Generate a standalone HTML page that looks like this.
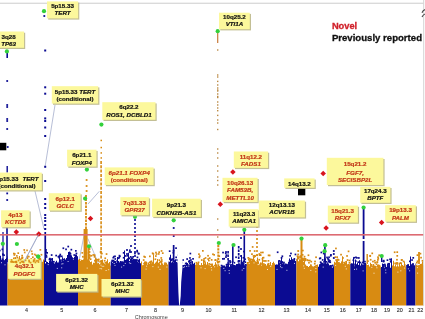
<!DOCTYPE html>
<html><head><meta charset="utf-8"><style>
html,body{margin:0;padding:0;background:#fff;}
svg{display:block;will-change:transform;font-family:"Liberation Sans",sans-serif;}
</style></head><body>
<svg width="425" height="319" viewBox="0 0 425 319">
<defs><filter id="sh" x="-20%" y="-20%" width="140%" height="140%"><feGaussianBlur stdDeviation="0.7"/></filter></defs>
<rect width="425" height="319" fill="#fff"/>
<line x1="55" y1="105" x2="45.2" y2="166" stroke="#98a2c4" stroke-width="0.7"/>
<line x1="35" y1="191" x2="44" y2="229" stroke="#98a2c4" stroke-width="0.7"/>
<line x1="24" y1="262" x2="38.8" y2="234" stroke="#98a2c4" stroke-width="0.7"/>
<line x1="99.3" y1="191.3" x2="88" y2="204" stroke="#98a2c4" stroke-width="0.7"/>
<line x1="76.4" y1="274" x2="84.5" y2="233" stroke="#98a2c4" stroke-width="0.7"/>
<line x1="87.8" y1="238.5" x2="105" y2="279" stroke="#98a2c4" stroke-width="0.7"/>
<path d="M-2.0 305.6L-2.0 260.2L-1.0 260.2L-1.0 259.7L0.0 259.7L0.0 255.8L1.0 255.8L1.0 260.1L2.0 260.1L2.0 259.9L3.0 259.9L3.0 259.6L4.0 259.6L4.0 260.8L5.0 260.8L5.0 259.1L6.0 259.1L6.0 257.9L7.0 257.9L7.0 256.2L7.5 256.2L7.5 305.6Z" fill="#0b0b92"/>
<path d="M7.5 305.6L7.5 263.7L8.0 263.7L8.0 264.3L9.0 264.3L9.0 261.3L10.0 261.3L10.0 263.4L11.0 263.4L11.0 260.4L12.0 260.4L12.0 263.4L13.0 263.4L13.0 257.5L14.0 257.5L14.0 260.4L15.0 260.4L15.0 264.5L16.0 264.5L16.0 264.0L17.0 264.0L17.0 259.2L18.0 259.2L18.0 263.1L19.0 263.1L19.0 255.9L20.0 255.9L20.0 263.4L21.0 263.4L21.0 264.3L22.0 264.3L22.0 262.3L23.0 262.3L23.0 261.2L24.0 261.2L24.0 263.8L25.0 263.8L25.0 264.3L26.0 264.3L26.0 263.6L27.0 263.6L27.0 257.2L28.0 257.2L28.0 261.4L29.0 261.4L29.0 264.2L30.0 264.2L30.0 263.9L31.0 263.9L31.0 264.3L32.0 264.3L32.0 264.4L33.0 264.4L33.0 261.0L34.0 261.0L34.0 264.1L35.0 264.1L35.0 262.7L36.0 262.7L36.0 263.2L37.0 263.2L37.0 264.0L38.0 264.0L38.0 261.6L39.0 261.6L39.0 264.2L40.0 264.2L40.0 262.2L41.0 262.2L41.0 264.2L42.0 264.2L42.0 261.8L43.0 261.8L43.0 259.5L44.0 259.5L44.0 305.6Z" fill="#d88b12"/>
<path d="M44.0 305.6L44.0 260.4L45.0 260.4L45.0 263.4L46.0 263.4L46.0 261.5L47.0 261.5L47.0 262.1L48.0 262.1L48.0 262.9L49.0 262.9L49.0 260.9L50.0 260.9L50.0 262.0L51.0 262.0L51.0 261.4L52.0 261.4L52.0 257.9L53.0 257.9L53.0 262.8L54.0 262.8L54.0 263.5L55.0 263.5L55.0 262.6L56.0 262.6L56.0 260.8L57.0 260.8L57.0 262.6L58.0 262.6L58.0 262.6L59.0 262.6L59.0 257.7L60.0 257.7L60.0 260.3L61.0 260.3L61.0 261.3L62.0 261.3L62.0 257.3L63.0 257.3L63.0 260.6L64.0 260.6L64.0 258.3L65.0 258.3L65.0 259.6L66.0 259.6L66.0 258.1L67.0 258.1L67.0 254.9L68.0 254.9L68.0 252.1L69.0 252.1L69.0 251.8L70.0 251.8L70.0 255.4L71.0 255.4L71.0 255.6L72.0 255.6L72.0 257.2L73.0 257.2L73.0 257.9L74.0 257.9L74.0 256.9L75.0 256.9L75.0 254.6L76.0 254.6L76.0 254.6L77.0 254.6L77.0 256.2L78.0 256.2L78.0 305.6Z" fill="#0b0b92"/>
<path d="M78.0 305.6L78.0 259.9L79.0 259.9L79.0 259.6L80.0 259.6L80.0 261.0L81.0 261.0L81.0 259.8L82.0 259.8L82.0 260.0L83.0 260.0L83.0 259.5L84.0 259.5L84.0 261.4L85.0 261.4L85.0 253.8L86.0 253.8L86.0 259.9L87.0 259.9L87.0 260.4L88.0 260.4L88.0 258.3L89.0 258.3L89.0 260.8L90.0 260.8L90.0 261.9L91.0 261.9L91.0 261.5L92.0 261.5L92.0 264.4L93.0 264.4L93.0 262.8L94.0 262.8L94.0 263.3L95.0 263.3L95.0 257.6L96.0 257.6L96.0 258.8L97.0 258.8L97.0 263.8L98.0 263.8L98.0 263.1L99.0 263.1L99.0 264.2L100.0 264.2L100.0 263.2L101.0 263.2L101.0 260.8L102.0 260.8L102.0 259.4L103.0 259.4L103.0 263.1L104.0 263.1L104.0 263.7L105.0 263.7L105.0 264.3L106.0 264.3L106.0 262.8L107.0 262.8L107.0 259.3L108.0 259.3L108.0 264.9L109.0 264.9L109.0 262.0L110.0 262.0L110.0 265.4L110.7 265.4L110.7 305.6Z" fill="#d88b12"/>
<path d="M110.7 305.6L110.7 261.6L111.0 261.6L111.0 261.2L112.0 261.2L112.0 262.7L113.0 262.7L113.0 261.8L114.0 261.8L114.0 260.7L115.0 260.7L115.0 260.9L116.0 260.9L116.0 262.5L117.0 262.5L117.0 256.9L118.0 256.9L118.0 260.9L119.0 260.9L119.0 262.5L120.0 262.5L120.0 261.0L121.0 261.0L121.0 261.3L122.0 261.3L122.0 261.2L123.0 261.2L123.0 261.5L124.0 261.5L124.0 250.4L125.0 250.4L125.0 259.9L126.0 259.9L126.0 259.2L127.0 259.2L127.0 258.5L128.0 258.5L128.0 252.7L129.0 252.7L129.0 261.0L130.0 261.0L130.0 258.7L131.0 258.7L131.0 257.5L132.0 257.5L132.0 259.6L133.0 259.6L133.0 258.8L134.0 258.8L134.0 259.5L135.0 259.5L135.0 259.5L136.0 259.5L136.0 260.0L137.0 260.0L137.0 261.8L138.0 261.8L138.0 262.4L139.0 262.4L139.0 258.8L140.0 258.8L140.0 263.2L141.0 263.2L141.0 305.6Z" fill="#0b0b92"/>
<path d="M141.0 305.6L141.0 261.5L142.0 261.5L142.0 265.2L143.0 265.2L143.0 265.0L144.0 265.0L144.0 261.6L145.0 261.6L145.0 263.0L146.0 263.0L146.0 261.9L147.0 261.9L147.0 264.5L148.0 264.5L148.0 263.7L149.0 263.7L149.0 264.2L150.0 264.2L150.0 261.2L151.0 261.2L151.0 263.7L152.0 263.7L152.0 262.3L153.0 262.3L153.0 254.6L154.0 254.6L154.0 263.7L155.0 263.7L155.0 262.8L156.0 262.8L156.0 261.6L157.0 261.6L157.0 259.1L158.0 259.1L158.0 263.5L159.0 263.5L159.0 263.8L160.0 263.8L160.0 264.7L161.0 264.7L161.0 260.4L162.0 260.4L162.0 264.9L163.0 264.9L163.0 264.9L164.0 264.9L164.0 263.4L165.0 263.4L165.0 263.8L166.0 263.8L166.0 262.8L167.0 262.8L167.0 264.6L168.0 264.6L168.0 262.2L168.6 262.2L168.6 305.6Z" fill="#d88b12"/>
<path d="M168.6 305.6L168.6 261.3L169.0 261.3L169.0 261.7L170.0 261.7L170.0 254.8L171.0 254.8L171.0 262.4L172.0 262.4L172.0 261.7L173.0 261.7L173.0 262.2L174.0 262.2L174.0 260.2L175.0 260.2L175.0 259.2L176.0 259.2L176.0 262.1L177.0 262.1L177.0 262.6L178.0 262.6L178.0 261.9L179.0 261.9L179.0 261.8L180.0 261.8L180.0 259.0L181.0 259.0L181.0 264.7L182.0 264.7L182.0 265.0L183.0 265.0L183.0 265.0L184.0 265.0L184.0 264.8L185.0 264.8L185.0 264.7L186.0 264.7L186.0 262.4L187.0 262.4L187.0 263.1L188.0 263.1L188.0 264.5L189.0 264.5L189.0 264.5L190.0 264.5L190.0 264.1L191.0 264.1L191.0 264.4L192.0 264.4L192.0 261.6L193.0 261.6L193.0 263.8L194.0 263.8L194.0 262.8L195.0 262.8L195.0 305.6Z" fill="#0b0b92"/>
<path d="M195.0 305.6L195.0 264.7L196.0 264.7L196.0 264.7L197.0 264.7L197.0 264.5L198.0 264.5L198.0 263.2L199.0 263.2L199.0 265.0L200.0 265.0L200.0 265.2L201.0 265.2L201.0 262.9L202.0 262.9L202.0 264.9L203.0 264.9L203.0 259.5L204.0 259.5L204.0 264.1L205.0 264.1L205.0 263.1L206.0 263.1L206.0 265.1L207.0 265.1L207.0 262.1L208.0 262.1L208.0 265.8L209.0 265.8L209.0 265.7L210.0 265.7L210.0 265.9L211.0 265.9L211.0 263.7L212.0 263.7L212.0 263.5L213.0 263.5L213.0 265.8L214.0 265.8L214.0 265.1L215.0 265.1L215.0 262.3L216.0 262.3L216.0 264.4L217.0 264.4L217.0 266.2L218.0 266.2L218.0 265.9L219.0 265.9L219.0 266.1L220.0 266.1L220.0 266.2L220.5 266.2L220.5 305.6Z" fill="#d88b12"/>
<path d="M220.5 305.6L220.5 267.1L221.0 267.1L221.0 266.4L222.0 266.4L222.0 265.5L223.0 265.5L223.0 266.9L224.0 266.9L224.0 265.6L225.0 265.6L225.0 266.5L226.0 266.5L226.0 265.2L227.0 265.2L227.0 266.1L228.0 266.1L228.0 264.7L229.0 264.7L229.0 266.8L230.0 266.8L230.0 264.4L231.0 264.4L231.0 266.4L232.0 266.4L232.0 259.6L233.0 259.6L233.0 264.6L234.0 264.6L234.0 265.1L235.0 265.1L235.0 265.3L236.0 265.3L236.0 264.3L237.0 264.3L237.0 263.9L238.0 263.9L238.0 263.4L239.0 263.4L239.0 263.4L240.0 263.4L240.0 265.0L241.0 265.0L241.0 255.0L242.0 255.0L242.0 262.5L243.0 262.5L243.0 262.3L244.0 262.3L244.0 265.3L245.0 265.3L245.0 265.2L246.0 265.2L246.0 264.7L246.7 264.7L246.7 305.6Z" fill="#0b0b92"/>
<path d="M246.7 305.6L246.7 262.0L247.0 262.0L247.0 262.0L248.0 262.0L248.0 261.7L249.0 261.7L249.0 259.8L250.0 259.8L250.0 258.6L251.0 258.6L251.0 260.9L252.0 260.9L252.0 259.4L253.0 259.4L253.0 256.9L254.0 256.9L254.0 259.6L255.0 259.6L255.0 261.2L256.0 261.2L256.0 261.7L257.0 261.7L257.0 257.4L258.0 257.4L258.0 261.3L259.0 261.3L259.0 263.7L260.0 263.7L260.0 262.8L261.0 262.8L261.0 265.5L262.0 265.5L262.0 257.0L263.0 257.0L263.0 264.6L264.0 264.6L264.0 264.2L265.0 264.2L265.0 264.1L266.0 264.1L266.0 265.6L267.0 265.6L267.0 263.7L268.0 263.7L268.0 264.9L269.0 264.9L269.0 264.9L270.0 264.9L270.0 262.0L271.0 262.0L271.0 265.2L272.0 265.2L272.0 264.4L273.0 264.4L273.0 261.8L274.0 261.8L274.0 264.0L275.0 264.0L275.0 305.6Z" fill="#d88b12"/>
<path d="M275.0 305.6L275.0 264.7L276.0 264.7L276.0 265.8L277.0 265.8L277.0 264.9L278.0 264.9L278.0 260.3L279.0 260.3L279.0 265.2L280.0 265.2L280.0 265.2L281.0 265.2L281.0 257.3L282.0 257.3L282.0 263.8L283.0 263.8L283.0 265.8L284.0 265.8L284.0 264.6L285.0 264.6L285.0 263.4L286.0 263.4L286.0 265.5L287.0 265.5L287.0 264.6L288.0 264.6L288.0 262.0L289.0 262.0L289.0 258.5L290.0 258.5L290.0 260.0L291.0 260.0L291.0 257.2L292.0 257.2L292.0 260.6L293.0 260.6L293.0 260.9L294.0 260.9L294.0 257.9L295.0 257.9L295.0 260.9L296.0 260.9L296.0 258.7L296.4 258.7L296.4 305.6Z" fill="#0b0b92"/>
<path d="M296.4 305.6L296.4 259.1L297.0 259.1L297.0 256.1L298.0 256.1L298.0 261.2L299.0 261.2L299.0 259.3L300.0 259.3L300.0 259.6L301.0 259.6L301.0 255.3L302.0 255.3L302.0 257.7L303.0 257.7L303.0 261.7L304.0 261.7L304.0 260.2L305.0 260.2L305.0 264.5L306.0 264.5L306.0 265.8L307.0 265.8L307.0 265.9L308.0 265.9L308.0 266.9L309.0 266.9L309.0 265.9L310.0 265.9L310.0 266.1L311.0 266.1L311.0 265.5L312.0 265.5L312.0 266.3L313.0 266.3L313.0 266.6L314.0 266.6L314.0 265.9L315.0 265.9L315.0 265.6L316.0 265.6L316.0 266.6L317.0 266.6L317.0 264.6L318.0 264.6L318.0 305.6Z" fill="#d88b12"/>
<path d="M318.0 305.6L318.0 266.7L319.0 266.7L319.0 264.2L320.0 264.2L320.0 264.1L321.0 264.1L321.0 263.0L322.0 263.0L322.0 262.7L323.0 262.7L323.0 261.3L324.0 261.3L324.0 257.3L325.0 257.3L325.0 258.5L326.0 258.5L326.0 260.9L327.0 260.9L327.0 262.2L328.0 262.2L328.0 263.4L329.0 263.4L329.0 265.3L330.0 265.3L330.0 264.9L331.0 264.9L331.0 266.2L332.0 266.2L332.0 266.4L333.0 266.4L333.0 266.3L334.0 266.3L334.0 305.6Z" fill="#0b0b92"/>
<path d="M334.0 305.6L334.0 261.7L335.0 261.7L335.0 262.4L336.0 262.4L336.0 260.2L337.0 260.2L337.0 260.2L338.0 260.2L338.0 264.0L339.0 264.0L339.0 264.2L340.0 264.2L340.0 263.3L341.0 263.3L341.0 262.0L342.0 262.0L342.0 256.3L343.0 256.3L343.0 263.7L344.0 263.7L344.0 262.0L345.0 262.0L345.0 262.8L346.0 262.8L346.0 261.0L347.0 261.0L347.0 264.2L348.0 264.2L348.0 264.1L349.0 264.1L349.0 264.3L350.0 264.3L350.0 258.5L350.3 258.5L350.3 305.6Z" fill="#d88b12"/>
<path d="M350.3 305.6L350.3 263.8L351.0 263.8L351.0 263.3L352.0 263.3L352.0 263.7L353.0 263.7L353.0 257.3L354.0 257.3L354.0 266.2L355.0 266.2L355.0 259.5L356.0 259.5L356.0 264.8L357.0 264.8L357.0 262.9L358.0 262.9L358.0 264.9L359.0 264.9L359.0 260.2L360.0 260.2L360.0 265.4L361.0 265.4L361.0 263.6L362.0 263.6L362.0 264.9L363.0 264.9L363.0 264.4L364.0 264.4L364.0 264.5L365.0 264.5L365.0 263.1L366.0 263.1L366.0 305.6Z" fill="#0b0b92"/>
<path d="M366.0 305.6L366.0 264.3L367.0 264.3L367.0 265.0L368.0 265.0L368.0 264.7L369.0 264.7L369.0 266.4L370.0 266.4L370.0 262.7L371.0 262.7L371.0 264.1L372.0 264.1L372.0 265.4L373.0 265.4L373.0 264.3L374.0 264.3L374.0 265.6L375.0 265.6L375.0 265.8L376.0 265.8L376.0 266.3L377.0 266.3L377.0 264.9L378.0 264.9L378.0 265.1L379.0 265.1L379.0 265.4L380.0 265.4L380.0 266.9L380.8 266.9L380.8 305.6Z" fill="#d88b12"/>
<path d="M380.8 305.6L380.8 267.9L381.0 267.9L381.0 267.1L382.0 267.1L382.0 263.6L383.0 263.6L383.0 264.1L384.0 264.1L384.0 267.7L385.0 267.7L385.0 267.6L386.0 267.6L386.0 266.9L387.0 266.9L387.0 263.8L388.0 263.8L388.0 265.9L389.0 265.9L389.0 262.9L390.0 262.9L390.0 267.8L391.0 267.8L391.0 258.3L392.0 258.3L392.0 305.6Z" fill="#0b0b92"/>
<path d="M392.0 305.6L392.0 265.5L393.0 265.5L393.0 260.8L394.0 260.8L394.0 266.2L395.0 266.2L395.0 264.4L396.0 264.4L396.0 266.6L397.0 266.6L397.0 265.3L398.0 265.3L398.0 266.5L399.0 266.5L399.0 262.7L400.0 262.7L400.0 266.6L401.0 266.6L401.0 263.1L402.0 263.1L402.0 264.9L403.0 264.9L403.0 266.1L404.0 266.1L404.0 261.5L405.0 261.5L405.0 266.4L406.0 266.4L406.0 264.5L406.2 264.5L406.2 305.6Z" fill="#d88b12"/>
<path d="M406.2 305.6L406.2 265.1L407.0 265.1L407.0 265.4L408.0 265.4L408.0 264.2L409.0 264.2L409.0 266.0L410.0 266.0L410.0 256.4L411.0 256.4L411.0 266.0L412.0 266.0L412.0 265.5L413.0 265.5L413.0 266.2L414.0 266.2L414.0 265.4L415.0 265.4L415.0 263.5L415.5 263.5L415.5 305.6Z" fill="#0b0b92"/>
<path d="M415.5 305.6L415.5 265.8L416.0 265.8L416.0 265.2L417.0 265.2L417.0 266.1L418.0 266.1L418.0 265.6L419.0 265.6L419.0 264.7L420.0 264.7L420.0 264.1L421.0 264.1L421.0 264.4L422.0 264.4L422.0 261.4L423.0 261.4L423.0 265.3L423.5 265.3L423.5 305.6Z" fill="#d88b12"/>
<rect x="-1.1" y="258.1" width="1.7" height="1.7" fill="#0b0b92"/>
<rect x="-1.1" y="249.7" width="1.7" height="1.7" fill="#0b0b92"/>
<rect x="3.5" y="260.2" width="1.7" height="1.7" fill="#0b0b92"/>
<rect x="3.2" y="254.3" width="1.7" height="1.7" fill="#0b0b92"/>
<rect x="-0.6" y="260.4" width="1.7" height="1.7" fill="#0b0b92"/>
<rect x="2.2" y="260.1" width="1.7" height="1.7" fill="#0b0b92"/>
<rect x="-0.4" y="258.7" width="1.7" height="1.7" fill="#0b0b92"/>
<rect x="-1.6" y="256.4" width="1.7" height="1.7" fill="#0b0b92"/>
<rect x="1.5" y="248.5" width="1.7" height="1.7" fill="#0b0b92"/>
<rect x="2.1" y="253.9" width="1.7" height="1.7" fill="#0b0b92"/>
<rect x="2.0" y="253.4" width="1.7" height="1.7" fill="#0b0b92"/>
<rect x="1.7" y="258.4" width="1.7" height="1.7" fill="#0b0b92"/>
<rect x="35.5" y="261.9" width="1.7" height="1.7" fill="#d88b12"/>
<rect x="38.3" y="262.4" width="1.7" height="1.7" fill="#d88b12"/>
<rect x="21.3" y="254.8" width="1.7" height="1.7" fill="#d88b12"/>
<rect x="29.9" y="263.0" width="1.7" height="1.7" fill="#d88b12"/>
<rect x="41.9" y="262.4" width="1.7" height="1.7" fill="#d88b12"/>
<rect x="16.6" y="256.8" width="1.7" height="1.7" fill="#d88b12"/>
<rect x="19.1" y="261.9" width="1.7" height="1.7" fill="#d88b12"/>
<rect x="10.2" y="263.1" width="1.7" height="1.7" fill="#d88b12"/>
<rect x="27.9" y="262.2" width="1.7" height="1.7" fill="#d88b12"/>
<rect x="28.5" y="261.4" width="1.7" height="1.7" fill="#d88b12"/>
<rect x="23.4" y="249.1" width="1.7" height="1.7" fill="#d88b12"/>
<rect x="24.4" y="259.7" width="1.7" height="1.7" fill="#d88b12"/>
<rect x="37.7" y="262.6" width="1.7" height="1.7" fill="#d88b12"/>
<rect x="13.0" y="252.7" width="1.7" height="1.7" fill="#d88b12"/>
<rect x="36.0" y="262.2" width="1.7" height="1.7" fill="#d88b12"/>
<rect x="14.3" y="257.4" width="1.7" height="1.7" fill="#d88b12"/>
<rect x="40.2" y="262.5" width="1.7" height="1.7" fill="#d88b12"/>
<rect x="40.6" y="253.9" width="1.7" height="1.7" fill="#d88b12"/>
<rect x="28.6" y="261.0" width="1.7" height="1.7" fill="#d88b12"/>
<rect x="11.3" y="263.3" width="1.7" height="1.7" fill="#d88b12"/>
<rect x="41.0" y="262.3" width="1.7" height="1.7" fill="#d88b12"/>
<rect x="32.1" y="262.2" width="1.7" height="1.7" fill="#d88b12"/>
<rect x="36.2" y="259.4" width="1.7" height="1.7" fill="#d88b12"/>
<rect x="17.9" y="262.6" width="1.7" height="1.7" fill="#d88b12"/>
<rect x="32.6" y="263.2" width="1.7" height="1.7" fill="#d88b12"/>
<rect x="15.6" y="259.8" width="1.7" height="1.7" fill="#d88b12"/>
<rect x="37.2" y="259.2" width="1.7" height="1.7" fill="#d88b12"/>
<rect x="17.4" y="252.3" width="1.7" height="1.7" fill="#d88b12"/>
<rect x="14.8" y="263.4" width="1.7" height="1.7" fill="#d88b12"/>
<rect x="17.0" y="260.8" width="1.7" height="1.7" fill="#d88b12"/>
<rect x="9.8" y="262.6" width="1.7" height="1.7" fill="#d88b12"/>
<rect x="20.5" y="259.7" width="1.7" height="1.7" fill="#d88b12"/>
<rect x="12.3" y="261.5" width="1.7" height="1.7" fill="#d88b12"/>
<rect x="30.4" y="258.2" width="1.7" height="1.7" fill="#d88b12"/>
<rect x="27.9" y="262.8" width="1.7" height="1.7" fill="#d88b12"/>
<rect x="8.9" y="263.4" width="1.7" height="1.7" fill="#d88b12"/>
<rect x="39.2" y="258.1" width="1.7" height="1.7" fill="#d88b12"/>
<rect x="41.0" y="263.4" width="1.7" height="1.7" fill="#d88b12"/>
<rect x="29.7" y="260.5" width="1.7" height="1.7" fill="#d88b12"/>
<rect x="33.0" y="261.8" width="1.7" height="1.7" fill="#d88b12"/>
<rect x="42.3" y="262.3" width="1.7" height="1.7" fill="#d88b12"/>
<rect x="26.6" y="257.5" width="1.7" height="1.7" fill="#d88b12"/>
<rect x="38.8" y="257.5" width="1.7" height="1.7" fill="#d88b12"/>
<rect x="32.0" y="256.4" width="1.7" height="1.7" fill="#d88b12"/>
<rect x="39.4" y="261.5" width="1.7" height="1.7" fill="#d88b12"/>
<rect x="31.4" y="253.1" width="1.7" height="1.7" fill="#d88b12"/>
<rect x="37.8" y="261.1" width="1.7" height="1.7" fill="#d88b12"/>
<rect x="35.1" y="254.5" width="1.7" height="1.7" fill="#d88b12"/>
<rect x="27.5" y="259.1" width="1.7" height="1.7" fill="#d88b12"/>
<rect x="20.9" y="259.6" width="1.7" height="1.7" fill="#d88b12"/>
<rect x="28.8" y="263.1" width="1.7" height="1.7" fill="#d88b12"/>
<rect x="38.1" y="257.6" width="1.7" height="1.7" fill="#d88b12"/>
<rect x="21.1" y="257.5" width="1.7" height="1.7" fill="#d88b12"/>
<rect x="27.8" y="260.9" width="1.7" height="1.7" fill="#d88b12"/>
<rect x="36.7" y="263.1" width="1.7" height="1.7" fill="#d88b12"/>
<rect x="74.7" y="255.3" width="1.7" height="1.7" fill="#0b0b92"/>
<rect x="49.6" y="258.6" width="1.7" height="1.7" fill="#0b0b92"/>
<rect x="53.0" y="260.9" width="1.7" height="1.7" fill="#0b0b92"/>
<rect x="57.5" y="255.8" width="1.7" height="1.7" fill="#0b0b92"/>
<rect x="60.1" y="259.3" width="1.7" height="1.7" fill="#0b0b92"/>
<rect x="58.7" y="261.5" width="1.7" height="1.7" fill="#0b0b92"/>
<rect x="45.2" y="249.1" width="1.7" height="1.7" fill="#0b0b92"/>
<rect x="45.5" y="254.5" width="1.7" height="1.7" fill="#0b0b92"/>
<rect x="62.5" y="258.7" width="1.7" height="1.7" fill="#0b0b92"/>
<rect x="69.6" y="255.3" width="1.7" height="1.7" fill="#0b0b92"/>
<rect x="48.6" y="258.6" width="1.7" height="1.7" fill="#0b0b92"/>
<rect x="45.0" y="251.0" width="1.7" height="1.7" fill="#0b0b92"/>
<rect x="51.8" y="261.5" width="1.7" height="1.7" fill="#0b0b92"/>
<rect x="45.7" y="256.1" width="1.7" height="1.7" fill="#0b0b92"/>
<rect x="58.5" y="255.5" width="1.7" height="1.7" fill="#0b0b92"/>
<rect x="65.2" y="248.5" width="1.7" height="1.7" fill="#0b0b92"/>
<rect x="75.0" y="250.0" width="1.7" height="1.7" fill="#0b0b92"/>
<rect x="50.6" y="258.3" width="1.7" height="1.7" fill="#0b0b92"/>
<rect x="49.9" y="262.4" width="1.7" height="1.7" fill="#0b0b92"/>
<rect x="59.4" y="253.7" width="1.7" height="1.7" fill="#0b0b92"/>
<rect x="49.9" y="260.4" width="1.7" height="1.7" fill="#0b0b92"/>
<rect x="55.3" y="254.7" width="1.7" height="1.7" fill="#0b0b92"/>
<rect x="60.9" y="255.5" width="1.7" height="1.7" fill="#0b0b92"/>
<rect x="68.5" y="253.3" width="1.7" height="1.7" fill="#0b0b92"/>
<rect x="67.4" y="256.7" width="1.7" height="1.7" fill="#0b0b92"/>
<rect x="58.8" y="255.6" width="1.7" height="1.7" fill="#0b0b92"/>
<rect x="73.4" y="254.2" width="1.7" height="1.7" fill="#0b0b92"/>
<rect x="62.5" y="247.4" width="1.7" height="1.7" fill="#0b0b92"/>
<rect x="59.1" y="255.1" width="1.7" height="1.7" fill="#0b0b92"/>
<rect x="50.8" y="254.2" width="1.7" height="1.7" fill="#0b0b92"/>
<rect x="70.5" y="248.8" width="1.7" height="1.7" fill="#0b0b92"/>
<rect x="67.2" y="256.2" width="1.7" height="1.7" fill="#0b0b92"/>
<rect x="75.6" y="252.6" width="1.7" height="1.7" fill="#0b0b92"/>
<rect x="69.6" y="252.9" width="1.7" height="1.7" fill="#0b0b92"/>
<rect x="55.4" y="261.9" width="1.7" height="1.7" fill="#0b0b92"/>
<rect x="58.4" y="256.8" width="1.7" height="1.7" fill="#0b0b92"/>
<rect x="68.9" y="251.8" width="1.7" height="1.7" fill="#0b0b92"/>
<rect x="45.1" y="251.7" width="1.7" height="1.7" fill="#0b0b92"/>
<rect x="46.3" y="252.0" width="1.7" height="1.7" fill="#0b0b92"/>
<rect x="49.7" y="259.8" width="1.7" height="1.7" fill="#0b0b92"/>
<rect x="69.5" y="254.5" width="1.7" height="1.7" fill="#0b0b92"/>
<rect x="49.0" y="257.8" width="1.7" height="1.7" fill="#0b0b92"/>
<rect x="67.4" y="245.7" width="1.7" height="1.7" fill="#0b0b92"/>
<rect x="84.2" y="258.8" width="1.7" height="1.7" fill="#d88b12"/>
<rect x="99.4" y="261.0" width="1.7" height="1.7" fill="#d88b12"/>
<rect x="89.1" y="255.1" width="1.7" height="1.7" fill="#d88b12"/>
<rect x="81.4" y="252.0" width="1.7" height="1.7" fill="#d88b12"/>
<rect x="82.0" y="255.9" width="1.7" height="1.7" fill="#d88b12"/>
<rect x="85.9" y="259.1" width="1.7" height="1.7" fill="#d88b12"/>
<rect x="94.5" y="259.8" width="1.7" height="1.7" fill="#d88b12"/>
<rect x="89.8" y="258.4" width="1.7" height="1.7" fill="#d88b12"/>
<rect x="94.5" y="262.4" width="1.7" height="1.7" fill="#d88b12"/>
<rect x="84.5" y="254.0" width="1.7" height="1.7" fill="#d88b12"/>
<rect x="97.9" y="258.6" width="1.7" height="1.7" fill="#d88b12"/>
<rect x="104.4" y="257.4" width="1.7" height="1.7" fill="#d88b12"/>
<rect x="104.6" y="261.9" width="1.7" height="1.7" fill="#d88b12"/>
<rect x="101.0" y="252.7" width="1.7" height="1.7" fill="#d88b12"/>
<rect x="106.0" y="261.3" width="1.7" height="1.7" fill="#d88b12"/>
<rect x="105.5" y="262.8" width="1.7" height="1.7" fill="#d88b12"/>
<rect x="85.6" y="252.1" width="1.7" height="1.7" fill="#d88b12"/>
<rect x="86.2" y="259.8" width="1.7" height="1.7" fill="#d88b12"/>
<rect x="103.8" y="259.9" width="1.7" height="1.7" fill="#d88b12"/>
<rect x="102.5" y="262.6" width="1.7" height="1.7" fill="#d88b12"/>
<rect x="90.6" y="254.9" width="1.7" height="1.7" fill="#d88b12"/>
<rect x="78.7" y="259.0" width="1.7" height="1.7" fill="#d88b12"/>
<rect x="108.0" y="263.3" width="1.7" height="1.7" fill="#d88b12"/>
<rect x="93.8" y="254.3" width="1.7" height="1.7" fill="#d88b12"/>
<rect x="93.7" y="256.0" width="1.7" height="1.7" fill="#d88b12"/>
<rect x="84.0" y="260.0" width="1.7" height="1.7" fill="#d88b12"/>
<rect x="81.5" y="260.3" width="1.7" height="1.7" fill="#d88b12"/>
<rect x="95.2" y="258.8" width="1.7" height="1.7" fill="#d88b12"/>
<rect x="95.7" y="262.5" width="1.7" height="1.7" fill="#d88b12"/>
<rect x="83.9" y="259.0" width="1.7" height="1.7" fill="#d88b12"/>
<rect x="106.7" y="263.3" width="1.7" height="1.7" fill="#d88b12"/>
<rect x="92.4" y="254.1" width="1.7" height="1.7" fill="#d88b12"/>
<rect x="88.3" y="256.6" width="1.7" height="1.7" fill="#d88b12"/>
<rect x="94.1" y="259.8" width="1.7" height="1.7" fill="#d88b12"/>
<rect x="96.7" y="263.4" width="1.7" height="1.7" fill="#d88b12"/>
<rect x="99.8" y="251.4" width="1.7" height="1.7" fill="#d88b12"/>
<rect x="83.8" y="256.6" width="1.7" height="1.7" fill="#d88b12"/>
<rect x="101.0" y="260.1" width="1.7" height="1.7" fill="#d88b12"/>
<rect x="84.2" y="259.3" width="1.7" height="1.7" fill="#d88b12"/>
<rect x="94.0" y="263.4" width="1.7" height="1.7" fill="#d88b12"/>
<rect x="105.7" y="253.2" width="1.7" height="1.7" fill="#d88b12"/>
<rect x="99.9" y="250.7" width="1.7" height="1.7" fill="#d88b12"/>
<rect x="97.6" y="260.1" width="1.7" height="1.7" fill="#d88b12"/>
<rect x="96.7" y="258.9" width="1.7" height="1.7" fill="#d88b12"/>
<rect x="129.0" y="249.4" width="1.7" height="1.7" fill="#0b0b92"/>
<rect x="113.1" y="255.8" width="1.7" height="1.7" fill="#0b0b92"/>
<rect x="132.5" y="258.9" width="1.7" height="1.7" fill="#0b0b92"/>
<rect x="137.3" y="259.7" width="1.7" height="1.7" fill="#0b0b92"/>
<rect x="124.3" y="260.2" width="1.7" height="1.7" fill="#0b0b92"/>
<rect x="125.0" y="255.1" width="1.7" height="1.7" fill="#0b0b92"/>
<rect x="122.8" y="256.9" width="1.7" height="1.7" fill="#0b0b92"/>
<rect x="127.9" y="257.6" width="1.7" height="1.7" fill="#0b0b92"/>
<rect x="119.0" y="255.5" width="1.7" height="1.7" fill="#0b0b92"/>
<rect x="126.8" y="258.6" width="1.7" height="1.7" fill="#0b0b92"/>
<rect x="131.3" y="257.3" width="1.7" height="1.7" fill="#0b0b92"/>
<rect x="111.3" y="259.7" width="1.7" height="1.7" fill="#0b0b92"/>
<rect x="112.1" y="260.5" width="1.7" height="1.7" fill="#0b0b92"/>
<rect x="132.3" y="256.0" width="1.7" height="1.7" fill="#0b0b92"/>
<rect x="136.4" y="250.9" width="1.7" height="1.7" fill="#0b0b92"/>
<rect x="137.7" y="260.7" width="1.7" height="1.7" fill="#0b0b92"/>
<rect x="136.6" y="256.5" width="1.7" height="1.7" fill="#0b0b92"/>
<rect x="117.8" y="257.4" width="1.7" height="1.7" fill="#0b0b92"/>
<rect x="137.5" y="252.7" width="1.7" height="1.7" fill="#0b0b92"/>
<rect x="134.1" y="252.7" width="1.7" height="1.7" fill="#0b0b92"/>
<rect x="114.2" y="255.5" width="1.7" height="1.7" fill="#0b0b92"/>
<rect x="123.8" y="260.1" width="1.7" height="1.7" fill="#0b0b92"/>
<rect x="112.4" y="256.8" width="1.7" height="1.7" fill="#0b0b92"/>
<rect x="114.4" y="258.1" width="1.7" height="1.7" fill="#0b0b92"/>
<rect x="129.9" y="256.0" width="1.7" height="1.7" fill="#0b0b92"/>
<rect x="118.3" y="256.6" width="1.7" height="1.7" fill="#0b0b92"/>
<rect x="122.8" y="252.0" width="1.7" height="1.7" fill="#0b0b92"/>
<rect x="138.0" y="252.8" width="1.7" height="1.7" fill="#0b0b92"/>
<rect x="117.7" y="261.5" width="1.7" height="1.7" fill="#0b0b92"/>
<rect x="136.3" y="249.8" width="1.7" height="1.7" fill="#0b0b92"/>
<rect x="128.6" y="257.4" width="1.7" height="1.7" fill="#0b0b92"/>
<rect x="118.6" y="254.8" width="1.7" height="1.7" fill="#0b0b92"/>
<rect x="126.9" y="254.9" width="1.7" height="1.7" fill="#0b0b92"/>
<rect x="128.9" y="251.1" width="1.7" height="1.7" fill="#0b0b92"/>
<rect x="116.3" y="260.2" width="1.7" height="1.7" fill="#0b0b92"/>
<rect x="135.9" y="259.1" width="1.7" height="1.7" fill="#0b0b92"/>
<rect x="112.6" y="259.7" width="1.7" height="1.7" fill="#0b0b92"/>
<rect x="143.2" y="262.8" width="1.7" height="1.7" fill="#d88b12"/>
<rect x="158.2" y="263.2" width="1.7" height="1.7" fill="#d88b12"/>
<rect x="149.0" y="255.5" width="1.7" height="1.7" fill="#d88b12"/>
<rect x="159.0" y="261.6" width="1.7" height="1.7" fill="#d88b12"/>
<rect x="144.9" y="261.3" width="1.7" height="1.7" fill="#d88b12"/>
<rect x="159.9" y="260.9" width="1.7" height="1.7" fill="#d88b12"/>
<rect x="144.2" y="256.2" width="1.7" height="1.7" fill="#d88b12"/>
<rect x="152.5" y="253.1" width="1.7" height="1.7" fill="#d88b12"/>
<rect x="149.0" y="261.4" width="1.7" height="1.7" fill="#d88b12"/>
<rect x="164.2" y="262.3" width="1.7" height="1.7" fill="#d88b12"/>
<rect x="150.5" y="260.9" width="1.7" height="1.7" fill="#d88b12"/>
<rect x="150.5" y="260.5" width="1.7" height="1.7" fill="#d88b12"/>
<rect x="151.2" y="262.4" width="1.7" height="1.7" fill="#d88b12"/>
<rect x="155.7" y="253.2" width="1.7" height="1.7" fill="#d88b12"/>
<rect x="155.1" y="251.7" width="1.7" height="1.7" fill="#d88b12"/>
<rect x="155.7" y="262.3" width="1.7" height="1.7" fill="#d88b12"/>
<rect x="160.7" y="250.1" width="1.7" height="1.7" fill="#d88b12"/>
<rect x="148.4" y="263.8" width="1.7" height="1.7" fill="#d88b12"/>
<rect x="154.5" y="258.4" width="1.7" height="1.7" fill="#d88b12"/>
<rect x="157.9" y="253.1" width="1.7" height="1.7" fill="#d88b12"/>
<rect x="142.8" y="259.2" width="1.7" height="1.7" fill="#d88b12"/>
<rect x="161.5" y="263.4" width="1.7" height="1.7" fill="#d88b12"/>
<rect x="143.3" y="255.7" width="1.7" height="1.7" fill="#d88b12"/>
<rect x="164.3" y="263.6" width="1.7" height="1.7" fill="#d88b12"/>
<rect x="157.5" y="262.7" width="1.7" height="1.7" fill="#d88b12"/>
<rect x="160.4" y="257.1" width="1.7" height="1.7" fill="#d88b12"/>
<rect x="147.5" y="262.4" width="1.7" height="1.7" fill="#d88b12"/>
<rect x="160.9" y="259.1" width="1.7" height="1.7" fill="#d88b12"/>
<rect x="160.9" y="260.7" width="1.7" height="1.7" fill="#d88b12"/>
<rect x="158.5" y="259.3" width="1.7" height="1.7" fill="#d88b12"/>
<rect x="155.0" y="255.2" width="1.7" height="1.7" fill="#d88b12"/>
<rect x="151.8" y="252.4" width="1.7" height="1.7" fill="#d88b12"/>
<rect x="158.3" y="251.3" width="1.7" height="1.7" fill="#d88b12"/>
<rect x="161.9" y="252.3" width="1.7" height="1.7" fill="#d88b12"/>
<rect x="188.8" y="259.8" width="1.7" height="1.7" fill="#0b0b92"/>
<rect x="175.2" y="247.3" width="1.7" height="1.7" fill="#0b0b92"/>
<rect x="191.2" y="261.1" width="1.7" height="1.7" fill="#0b0b92"/>
<rect x="180.6" y="261.7" width="1.7" height="1.7" fill="#0b0b92"/>
<rect x="188.4" y="260.9" width="1.7" height="1.7" fill="#0b0b92"/>
<rect x="181.7" y="259.1" width="1.7" height="1.7" fill="#0b0b92"/>
<rect x="184.9" y="262.6" width="1.7" height="1.7" fill="#0b0b92"/>
<rect x="169.1" y="257.3" width="1.7" height="1.7" fill="#0b0b92"/>
<rect x="177.9" y="251.6" width="1.7" height="1.7" fill="#0b0b92"/>
<rect x="186.3" y="258.2" width="1.7" height="1.7" fill="#0b0b92"/>
<rect x="172.7" y="260.4" width="1.7" height="1.7" fill="#0b0b92"/>
<rect x="176.7" y="259.5" width="1.7" height="1.7" fill="#0b0b92"/>
<rect x="190.1" y="259.2" width="1.7" height="1.7" fill="#0b0b92"/>
<rect x="175.3" y="256.5" width="1.7" height="1.7" fill="#0b0b92"/>
<rect x="172.5" y="251.9" width="1.7" height="1.7" fill="#0b0b92"/>
<rect x="168.8" y="250.3" width="1.7" height="1.7" fill="#0b0b92"/>
<rect x="189.5" y="252.7" width="1.7" height="1.7" fill="#0b0b92"/>
<rect x="170.8" y="259.5" width="1.7" height="1.7" fill="#0b0b92"/>
<rect x="186.4" y="263.6" width="1.7" height="1.7" fill="#0b0b92"/>
<rect x="180.6" y="259.2" width="1.7" height="1.7" fill="#0b0b92"/>
<rect x="192.2" y="258.0" width="1.7" height="1.7" fill="#0b0b92"/>
<rect x="189.8" y="261.6" width="1.7" height="1.7" fill="#0b0b92"/>
<rect x="188.1" y="260.6" width="1.7" height="1.7" fill="#0b0b92"/>
<rect x="191.3" y="263.2" width="1.7" height="1.7" fill="#0b0b92"/>
<rect x="189.0" y="262.5" width="1.7" height="1.7" fill="#0b0b92"/>
<rect x="182.1" y="259.2" width="1.7" height="1.7" fill="#0b0b92"/>
<rect x="172.7" y="249.9" width="1.7" height="1.7" fill="#0b0b92"/>
<rect x="176.4" y="259.1" width="1.7" height="1.7" fill="#0b0b92"/>
<rect x="170.7" y="259.1" width="1.7" height="1.7" fill="#0b0b92"/>
<rect x="180.2" y="255.0" width="1.7" height="1.7" fill="#0b0b92"/>
<rect x="177.6" y="254.3" width="1.7" height="1.7" fill="#0b0b92"/>
<rect x="171.4" y="258.2" width="1.7" height="1.7" fill="#0b0b92"/>
<rect x="189.1" y="257.1" width="1.7" height="1.7" fill="#0b0b92"/>
<rect x="169.1" y="258.4" width="1.7" height="1.7" fill="#0b0b92"/>
<rect x="204.8" y="264.4" width="1.7" height="1.7" fill="#d88b12"/>
<rect x="216.9" y="261.7" width="1.7" height="1.7" fill="#d88b12"/>
<rect x="207.3" y="258.2" width="1.7" height="1.7" fill="#d88b12"/>
<rect x="213.3" y="254.0" width="1.7" height="1.7" fill="#d88b12"/>
<rect x="204.3" y="262.2" width="1.7" height="1.7" fill="#d88b12"/>
<rect x="204.9" y="264.8" width="1.7" height="1.7" fill="#d88b12"/>
<rect x="204.7" y="257.1" width="1.7" height="1.7" fill="#d88b12"/>
<rect x="218.4" y="255.3" width="1.7" height="1.7" fill="#d88b12"/>
<rect x="210.8" y="259.0" width="1.7" height="1.7" fill="#d88b12"/>
<rect x="195.6" y="261.9" width="1.7" height="1.7" fill="#d88b12"/>
<rect x="203.3" y="258.0" width="1.7" height="1.7" fill="#d88b12"/>
<rect x="197.7" y="261.5" width="1.7" height="1.7" fill="#d88b12"/>
<rect x="207.2" y="254.9" width="1.7" height="1.7" fill="#d88b12"/>
<rect x="214.7" y="259.1" width="1.7" height="1.7" fill="#d88b12"/>
<rect x="198.9" y="255.2" width="1.7" height="1.7" fill="#d88b12"/>
<rect x="216.5" y="260.2" width="1.7" height="1.7" fill="#d88b12"/>
<rect x="203.5" y="260.3" width="1.7" height="1.7" fill="#d88b12"/>
<rect x="198.5" y="256.5" width="1.7" height="1.7" fill="#d88b12"/>
<rect x="218.5" y="260.7" width="1.7" height="1.7" fill="#d88b12"/>
<rect x="212.1" y="253.4" width="1.7" height="1.7" fill="#d88b12"/>
<rect x="210.0" y="263.7" width="1.7" height="1.7" fill="#d88b12"/>
<rect x="197.2" y="262.8" width="1.7" height="1.7" fill="#d88b12"/>
<rect x="208.8" y="257.3" width="1.7" height="1.7" fill="#d88b12"/>
<rect x="203.7" y="260.8" width="1.7" height="1.7" fill="#d88b12"/>
<rect x="208.0" y="259.7" width="1.7" height="1.7" fill="#d88b12"/>
<rect x="208.4" y="263.0" width="1.7" height="1.7" fill="#d88b12"/>
<rect x="214.5" y="259.3" width="1.7" height="1.7" fill="#d88b12"/>
<rect x="198.1" y="253.3" width="1.7" height="1.7" fill="#d88b12"/>
<rect x="202.0" y="250.0" width="1.7" height="1.7" fill="#d88b12"/>
<rect x="200.9" y="259.2" width="1.7" height="1.7" fill="#d88b12"/>
<rect x="214.8" y="263.9" width="1.7" height="1.7" fill="#d88b12"/>
<rect x="208.1" y="264.5" width="1.7" height="1.7" fill="#d88b12"/>
<rect x="196.0" y="263.2" width="1.7" height="1.7" fill="#d88b12"/>
<rect x="242.7" y="260.6" width="1.7" height="1.7" fill="#0b0b92"/>
<rect x="233.5" y="261.9" width="1.7" height="1.7" fill="#0b0b92"/>
<rect x="242.7" y="263.0" width="1.7" height="1.7" fill="#0b0b92"/>
<rect x="222.0" y="258.0" width="1.7" height="1.7" fill="#0b0b92"/>
<rect x="242.6" y="256.9" width="1.7" height="1.7" fill="#0b0b92"/>
<rect x="235.2" y="256.4" width="1.7" height="1.7" fill="#0b0b92"/>
<rect x="228.1" y="260.1" width="1.7" height="1.7" fill="#0b0b92"/>
<rect x="222.4" y="265.5" width="1.7" height="1.7" fill="#0b0b92"/>
<rect x="231.6" y="261.2" width="1.7" height="1.7" fill="#0b0b92"/>
<rect x="230.3" y="265.5" width="1.7" height="1.7" fill="#0b0b92"/>
<rect x="237.6" y="260.6" width="1.7" height="1.7" fill="#0b0b92"/>
<rect x="226.5" y="263.7" width="1.7" height="1.7" fill="#0b0b92"/>
<rect x="230.3" y="264.1" width="1.7" height="1.7" fill="#0b0b92"/>
<rect x="244.2" y="258.4" width="1.7" height="1.7" fill="#0b0b92"/>
<rect x="241.8" y="261.9" width="1.7" height="1.7" fill="#0b0b92"/>
<rect x="240.3" y="263.9" width="1.7" height="1.7" fill="#0b0b92"/>
<rect x="238.8" y="260.1" width="1.7" height="1.7" fill="#0b0b92"/>
<rect x="242.7" y="264.8" width="1.7" height="1.7" fill="#0b0b92"/>
<rect x="240.0" y="264.6" width="1.7" height="1.7" fill="#0b0b92"/>
<rect x="220.7" y="264.7" width="1.7" height="1.7" fill="#0b0b92"/>
<rect x="228.0" y="263.4" width="1.7" height="1.7" fill="#0b0b92"/>
<rect x="222.2" y="251.7" width="1.7" height="1.7" fill="#0b0b92"/>
<rect x="240.5" y="262.2" width="1.7" height="1.7" fill="#0b0b92"/>
<rect x="229.4" y="260.2" width="1.7" height="1.7" fill="#0b0b92"/>
<rect x="221.8" y="266.2" width="1.7" height="1.7" fill="#0b0b92"/>
<rect x="242.5" y="263.1" width="1.7" height="1.7" fill="#0b0b92"/>
<rect x="244.4" y="261.3" width="1.7" height="1.7" fill="#0b0b92"/>
<rect x="225.7" y="263.9" width="1.7" height="1.7" fill="#0b0b92"/>
<rect x="243.1" y="250.7" width="1.7" height="1.7" fill="#0b0b92"/>
<rect x="225.5" y="254.3" width="1.7" height="1.7" fill="#0b0b92"/>
<rect x="229.3" y="261.7" width="1.7" height="1.7" fill="#0b0b92"/>
<rect x="224.9" y="252.4" width="1.7" height="1.7" fill="#0b0b92"/>
<rect x="244.9" y="264.0" width="1.7" height="1.7" fill="#0b0b92"/>
<rect x="236.1" y="264.1" width="1.7" height="1.7" fill="#0b0b92"/>
<rect x="242.1" y="265.2" width="1.7" height="1.7" fill="#0b0b92"/>
<rect x="223.3" y="257.9" width="1.7" height="1.7" fill="#0b0b92"/>
<rect x="254.3" y="255.4" width="1.7" height="1.7" fill="#d88b12"/>
<rect x="251.8" y="246.1" width="1.7" height="1.7" fill="#d88b12"/>
<rect x="273.0" y="263.8" width="1.7" height="1.7" fill="#d88b12"/>
<rect x="259.1" y="254.1" width="1.7" height="1.7" fill="#d88b12"/>
<rect x="260.1" y="262.5" width="1.7" height="1.7" fill="#d88b12"/>
<rect x="261.6" y="258.0" width="1.7" height="1.7" fill="#d88b12"/>
<rect x="256.4" y="254.4" width="1.7" height="1.7" fill="#d88b12"/>
<rect x="267.6" y="260.0" width="1.7" height="1.7" fill="#d88b12"/>
<rect x="260.2" y="251.7" width="1.7" height="1.7" fill="#d88b12"/>
<rect x="265.0" y="260.1" width="1.7" height="1.7" fill="#d88b12"/>
<rect x="272.0" y="263.0" width="1.7" height="1.7" fill="#d88b12"/>
<rect x="267.5" y="263.5" width="1.7" height="1.7" fill="#d88b12"/>
<rect x="263.0" y="263.2" width="1.7" height="1.7" fill="#d88b12"/>
<rect x="258.5" y="253.1" width="1.7" height="1.7" fill="#d88b12"/>
<rect x="267.7" y="254.5" width="1.7" height="1.7" fill="#d88b12"/>
<rect x="253.1" y="256.4" width="1.7" height="1.7" fill="#d88b12"/>
<rect x="252.7" y="255.1" width="1.7" height="1.7" fill="#d88b12"/>
<rect x="260.1" y="263.5" width="1.7" height="1.7" fill="#d88b12"/>
<rect x="262.7" y="256.8" width="1.7" height="1.7" fill="#d88b12"/>
<rect x="262.0" y="251.6" width="1.7" height="1.7" fill="#d88b12"/>
<rect x="251.7" y="259.8" width="1.7" height="1.7" fill="#d88b12"/>
<rect x="247.4" y="257.0" width="1.7" height="1.7" fill="#d88b12"/>
<rect x="258.4" y="258.9" width="1.7" height="1.7" fill="#d88b12"/>
<rect x="253.8" y="250.2" width="1.7" height="1.7" fill="#d88b12"/>
<rect x="261.9" y="259.9" width="1.7" height="1.7" fill="#d88b12"/>
<rect x="267.8" y="262.9" width="1.7" height="1.7" fill="#d88b12"/>
<rect x="250.8" y="258.6" width="1.7" height="1.7" fill="#d88b12"/>
<rect x="248.0" y="258.9" width="1.7" height="1.7" fill="#d88b12"/>
<rect x="263.3" y="260.1" width="1.7" height="1.7" fill="#d88b12"/>
<rect x="253.9" y="254.9" width="1.7" height="1.7" fill="#d88b12"/>
<rect x="249.2" y="250.0" width="1.7" height="1.7" fill="#d88b12"/>
<rect x="251.4" y="259.0" width="1.7" height="1.7" fill="#d88b12"/>
<rect x="251.1" y="253.3" width="1.7" height="1.7" fill="#d88b12"/>
<rect x="268.8" y="254.6" width="1.7" height="1.7" fill="#d88b12"/>
<rect x="248.5" y="257.8" width="1.7" height="1.7" fill="#d88b12"/>
<rect x="256.5" y="259.9" width="1.7" height="1.7" fill="#d88b12"/>
<rect x="272.5" y="263.8" width="1.7" height="1.7" fill="#d88b12"/>
<rect x="259.8" y="254.3" width="1.7" height="1.7" fill="#d88b12"/>
<rect x="272.9" y="263.0" width="1.7" height="1.7" fill="#d88b12"/>
<rect x="258.9" y="254.1" width="1.7" height="1.7" fill="#d88b12"/>
<rect x="279.4" y="262.4" width="1.7" height="1.7" fill="#0b0b92"/>
<rect x="278.8" y="260.0" width="1.7" height="1.7" fill="#0b0b92"/>
<rect x="278.4" y="263.8" width="1.7" height="1.7" fill="#0b0b92"/>
<rect x="279.4" y="261.1" width="1.7" height="1.7" fill="#0b0b92"/>
<rect x="281.2" y="261.2" width="1.7" height="1.7" fill="#0b0b92"/>
<rect x="294.6" y="253.6" width="1.7" height="1.7" fill="#0b0b92"/>
<rect x="292.0" y="259.5" width="1.7" height="1.7" fill="#0b0b92"/>
<rect x="282.7" y="264.4" width="1.7" height="1.7" fill="#0b0b92"/>
<rect x="288.7" y="260.4" width="1.7" height="1.7" fill="#0b0b92"/>
<rect x="280.6" y="265.0" width="1.7" height="1.7" fill="#0b0b92"/>
<rect x="278.7" y="263.2" width="1.7" height="1.7" fill="#0b0b92"/>
<rect x="289.1" y="260.5" width="1.7" height="1.7" fill="#0b0b92"/>
<rect x="282.2" y="263.9" width="1.7" height="1.7" fill="#0b0b92"/>
<rect x="293.5" y="258.1" width="1.7" height="1.7" fill="#0b0b92"/>
<rect x="290.1" y="252.6" width="1.7" height="1.7" fill="#0b0b92"/>
<rect x="292.9" y="260.9" width="1.7" height="1.7" fill="#0b0b92"/>
<rect x="281.5" y="261.8" width="1.7" height="1.7" fill="#0b0b92"/>
<rect x="276.8" y="251.4" width="1.7" height="1.7" fill="#0b0b92"/>
<rect x="281.5" y="255.4" width="1.7" height="1.7" fill="#0b0b92"/>
<rect x="285.3" y="264.3" width="1.7" height="1.7" fill="#0b0b92"/>
<rect x="282.9" y="263.1" width="1.7" height="1.7" fill="#0b0b92"/>
<rect x="276.0" y="264.4" width="1.7" height="1.7" fill="#0b0b92"/>
<rect x="286.8" y="264.4" width="1.7" height="1.7" fill="#0b0b92"/>
<rect x="281.3" y="261.4" width="1.7" height="1.7" fill="#0b0b92"/>
<rect x="285.8" y="263.7" width="1.7" height="1.7" fill="#0b0b92"/>
<rect x="289.0" y="260.8" width="1.7" height="1.7" fill="#0b0b92"/>
<rect x="289.3" y="255.0" width="1.7" height="1.7" fill="#0b0b92"/>
<rect x="278.1" y="263.8" width="1.7" height="1.7" fill="#0b0b92"/>
<rect x="280.7" y="257.0" width="1.7" height="1.7" fill="#0b0b92"/>
<rect x="283.1" y="261.7" width="1.7" height="1.7" fill="#0b0b92"/>
<rect x="292.1" y="259.3" width="1.7" height="1.7" fill="#0b0b92"/>
<rect x="301.3" y="260.4" width="1.7" height="1.7" fill="#d88b12"/>
<rect x="303.3" y="257.7" width="1.7" height="1.7" fill="#d88b12"/>
<rect x="299.6" y="255.2" width="1.7" height="1.7" fill="#d88b12"/>
<rect x="310.4" y="260.8" width="1.7" height="1.7" fill="#d88b12"/>
<rect x="310.4" y="265.8" width="1.7" height="1.7" fill="#d88b12"/>
<rect x="304.3" y="258.5" width="1.7" height="1.7" fill="#d88b12"/>
<rect x="297.8" y="257.3" width="1.7" height="1.7" fill="#d88b12"/>
<rect x="297.7" y="256.2" width="1.7" height="1.7" fill="#d88b12"/>
<rect x="308.1" y="261.9" width="1.7" height="1.7" fill="#d88b12"/>
<rect x="303.0" y="259.4" width="1.7" height="1.7" fill="#d88b12"/>
<rect x="297.1" y="257.8" width="1.7" height="1.7" fill="#d88b12"/>
<rect x="314.2" y="260.6" width="1.7" height="1.7" fill="#d88b12"/>
<rect x="301.8" y="254.0" width="1.7" height="1.7" fill="#d88b12"/>
<rect x="300.3" y="256.8" width="1.7" height="1.7" fill="#d88b12"/>
<rect x="303.7" y="255.8" width="1.7" height="1.7" fill="#d88b12"/>
<rect x="315.2" y="256.4" width="1.7" height="1.7" fill="#d88b12"/>
<rect x="309.0" y="259.7" width="1.7" height="1.7" fill="#d88b12"/>
<rect x="304.7" y="258.0" width="1.7" height="1.7" fill="#d88b12"/>
<rect x="302.0" y="249.7" width="1.7" height="1.7" fill="#d88b12"/>
<rect x="313.9" y="262.9" width="1.7" height="1.7" fill="#d88b12"/>
<rect x="314.5" y="265.7" width="1.7" height="1.7" fill="#d88b12"/>
<rect x="299.3" y="256.2" width="1.7" height="1.7" fill="#d88b12"/>
<rect x="302.7" y="258.3" width="1.7" height="1.7" fill="#d88b12"/>
<rect x="315.8" y="264.9" width="1.7" height="1.7" fill="#d88b12"/>
<rect x="300.4" y="259.3" width="1.7" height="1.7" fill="#d88b12"/>
<rect x="310.0" y="264.3" width="1.7" height="1.7" fill="#d88b12"/>
<rect x="296.6" y="255.4" width="1.7" height="1.7" fill="#d88b12"/>
<rect x="304.4" y="259.6" width="1.7" height="1.7" fill="#d88b12"/>
<rect x="306.3" y="259.2" width="1.7" height="1.7" fill="#d88b12"/>
<rect x="307.4" y="259.6" width="1.7" height="1.7" fill="#d88b12"/>
<rect x="307.6" y="254.4" width="1.7" height="1.7" fill="#d88b12"/>
<rect x="319.6" y="257.3" width="1.7" height="1.7" fill="#0b0b92"/>
<rect x="319.8" y="261.3" width="1.7" height="1.7" fill="#0b0b92"/>
<rect x="329.1" y="259.9" width="1.7" height="1.7" fill="#0b0b92"/>
<rect x="320.5" y="251.6" width="1.7" height="1.7" fill="#0b0b92"/>
<rect x="330.5" y="265.1" width="1.7" height="1.7" fill="#0b0b92"/>
<rect x="321.8" y="259.1" width="1.7" height="1.7" fill="#0b0b92"/>
<rect x="329.4" y="261.4" width="1.7" height="1.7" fill="#0b0b92"/>
<rect x="328.3" y="261.1" width="1.7" height="1.7" fill="#0b0b92"/>
<rect x="328.3" y="260.4" width="1.7" height="1.7" fill="#0b0b92"/>
<rect x="322.9" y="252.7" width="1.7" height="1.7" fill="#0b0b92"/>
<rect x="330.1" y="254.0" width="1.7" height="1.7" fill="#0b0b92"/>
<rect x="326.2" y="256.6" width="1.7" height="1.7" fill="#0b0b92"/>
<rect x="328.2" y="256.4" width="1.7" height="1.7" fill="#0b0b92"/>
<rect x="329.9" y="254.9" width="1.7" height="1.7" fill="#0b0b92"/>
<rect x="320.0" y="262.0" width="1.7" height="1.7" fill="#0b0b92"/>
<rect x="327.6" y="260.3" width="1.7" height="1.7" fill="#0b0b92"/>
<rect x="320.8" y="264.3" width="1.7" height="1.7" fill="#0b0b92"/>
<rect x="331.9" y="264.6" width="1.7" height="1.7" fill="#0b0b92"/>
<rect x="327.9" y="258.8" width="1.7" height="1.7" fill="#0b0b92"/>
<rect x="327.1" y="258.0" width="1.7" height="1.7" fill="#0b0b92"/>
<rect x="318.9" y="257.7" width="1.7" height="1.7" fill="#0b0b92"/>
<rect x="319.9" y="264.8" width="1.7" height="1.7" fill="#0b0b92"/>
<rect x="337.8" y="259.1" width="1.7" height="1.7" fill="#d88b12"/>
<rect x="335.9" y="259.9" width="1.7" height="1.7" fill="#d88b12"/>
<rect x="334.5" y="256.3" width="1.7" height="1.7" fill="#d88b12"/>
<rect x="336.3" y="256.3" width="1.7" height="1.7" fill="#d88b12"/>
<rect x="338.1" y="261.9" width="1.7" height="1.7" fill="#d88b12"/>
<rect x="341.1" y="261.3" width="1.7" height="1.7" fill="#d88b12"/>
<rect x="337.9" y="263.1" width="1.7" height="1.7" fill="#d88b12"/>
<rect x="335.1" y="247.6" width="1.7" height="1.7" fill="#d88b12"/>
<rect x="338.7" y="263.3" width="1.7" height="1.7" fill="#d88b12"/>
<rect x="336.8" y="258.6" width="1.7" height="1.7" fill="#d88b12"/>
<rect x="348.6" y="262.0" width="1.7" height="1.7" fill="#d88b12"/>
<rect x="346.7" y="259.2" width="1.7" height="1.7" fill="#d88b12"/>
<rect x="340.2" y="253.8" width="1.7" height="1.7" fill="#d88b12"/>
<rect x="339.9" y="264.1" width="1.7" height="1.7" fill="#d88b12"/>
<rect x="342.1" y="257.1" width="1.7" height="1.7" fill="#d88b12"/>
<rect x="343.2" y="261.8" width="1.7" height="1.7" fill="#d88b12"/>
<rect x="347.7" y="250.5" width="1.7" height="1.7" fill="#d88b12"/>
<rect x="348.5" y="259.7" width="1.7" height="1.7" fill="#d88b12"/>
<rect x="346.2" y="255.1" width="1.7" height="1.7" fill="#d88b12"/>
<rect x="336.7" y="262.7" width="1.7" height="1.7" fill="#d88b12"/>
<rect x="336.6" y="262.0" width="1.7" height="1.7" fill="#d88b12"/>
<rect x="335.3" y="259.2" width="1.7" height="1.7" fill="#d88b12"/>
<rect x="345.1" y="261.1" width="1.7" height="1.7" fill="#d88b12"/>
<rect x="341.6" y="264.1" width="1.7" height="1.7" fill="#d88b12"/>
<rect x="361.7" y="261.6" width="1.7" height="1.7" fill="#0b0b92"/>
<rect x="359.3" y="261.7" width="1.7" height="1.7" fill="#0b0b92"/>
<rect x="354.9" y="264.7" width="1.7" height="1.7" fill="#0b0b92"/>
<rect x="355.1" y="256.5" width="1.7" height="1.7" fill="#0b0b92"/>
<rect x="353.4" y="256.9" width="1.7" height="1.7" fill="#0b0b92"/>
<rect x="358.0" y="257.1" width="1.7" height="1.7" fill="#0b0b92"/>
<rect x="352.9" y="265.1" width="1.7" height="1.7" fill="#0b0b92"/>
<rect x="352.5" y="263.1" width="1.7" height="1.7" fill="#0b0b92"/>
<rect x="356.4" y="264.8" width="1.7" height="1.7" fill="#0b0b92"/>
<rect x="357.4" y="261.3" width="1.7" height="1.7" fill="#0b0b92"/>
<rect x="354.9" y="260.3" width="1.7" height="1.7" fill="#0b0b92"/>
<rect x="363.6" y="263.0" width="1.7" height="1.7" fill="#0b0b92"/>
<rect x="362.7" y="262.0" width="1.7" height="1.7" fill="#0b0b92"/>
<rect x="360.9" y="263.8" width="1.7" height="1.7" fill="#0b0b92"/>
<rect x="364.1" y="260.8" width="1.7" height="1.7" fill="#0b0b92"/>
<rect x="363.8" y="262.9" width="1.7" height="1.7" fill="#0b0b92"/>
<rect x="356.1" y="257.0" width="1.7" height="1.7" fill="#0b0b92"/>
<rect x="353.0" y="263.7" width="1.7" height="1.7" fill="#0b0b92"/>
<rect x="354.9" y="264.0" width="1.7" height="1.7" fill="#0b0b92"/>
<rect x="352.5" y="259.4" width="1.7" height="1.7" fill="#0b0b92"/>
<rect x="374.3" y="261.9" width="1.7" height="1.7" fill="#d88b12"/>
<rect x="373.9" y="259.9" width="1.7" height="1.7" fill="#d88b12"/>
<rect x="378.2" y="264.8" width="1.7" height="1.7" fill="#d88b12"/>
<rect x="375.7" y="263.4" width="1.7" height="1.7" fill="#d88b12"/>
<rect x="371.4" y="252.5" width="1.7" height="1.7" fill="#d88b12"/>
<rect x="372.5" y="264.0" width="1.7" height="1.7" fill="#d88b12"/>
<rect x="377.0" y="259.1" width="1.7" height="1.7" fill="#d88b12"/>
<rect x="378.3" y="254.4" width="1.7" height="1.7" fill="#d88b12"/>
<rect x="376.5" y="261.2" width="1.7" height="1.7" fill="#d88b12"/>
<rect x="379.0" y="265.5" width="1.7" height="1.7" fill="#d88b12"/>
<rect x="377.4" y="257.8" width="1.7" height="1.7" fill="#d88b12"/>
<rect x="369.4" y="254.9" width="1.7" height="1.7" fill="#d88b12"/>
<rect x="372.1" y="260.7" width="1.7" height="1.7" fill="#d88b12"/>
<rect x="377.4" y="264.5" width="1.7" height="1.7" fill="#d88b12"/>
<rect x="369.8" y="258.9" width="1.7" height="1.7" fill="#d88b12"/>
<rect x="367.1" y="260.3" width="1.7" height="1.7" fill="#d88b12"/>
<rect x="376.4" y="261.5" width="1.7" height="1.7" fill="#d88b12"/>
<rect x="369.3" y="255.2" width="1.7" height="1.7" fill="#d88b12"/>
<rect x="377.2" y="256.3" width="1.7" height="1.7" fill="#d88b12"/>
<rect x="382.9" y="260.6" width="1.7" height="1.7" fill="#0b0b92"/>
<rect x="389.2" y="258.5" width="1.7" height="1.7" fill="#0b0b92"/>
<rect x="382.8" y="259.8" width="1.7" height="1.7" fill="#0b0b92"/>
<rect x="385.0" y="266.9" width="1.7" height="1.7" fill="#0b0b92"/>
<rect x="384.2" y="264.5" width="1.7" height="1.7" fill="#0b0b92"/>
<rect x="386.9" y="264.9" width="1.7" height="1.7" fill="#0b0b92"/>
<rect x="386.6" y="259.3" width="1.7" height="1.7" fill="#0b0b92"/>
<rect x="382.7" y="266.1" width="1.7" height="1.7" fill="#0b0b92"/>
<rect x="387.5" y="262.9" width="1.7" height="1.7" fill="#0b0b92"/>
<rect x="382.2" y="266.2" width="1.7" height="1.7" fill="#0b0b92"/>
<rect x="389.8" y="260.9" width="1.7" height="1.7" fill="#0b0b92"/>
<rect x="384.3" y="265.6" width="1.7" height="1.7" fill="#0b0b92"/>
<rect x="390.3" y="259.4" width="1.7" height="1.7" fill="#0b0b92"/>
<rect x="387.8" y="264.1" width="1.7" height="1.7" fill="#0b0b92"/>
<rect x="383.9" y="263.6" width="1.7" height="1.7" fill="#0b0b92"/>
<rect x="382.4" y="260.5" width="1.7" height="1.7" fill="#0b0b92"/>
<rect x="399.6" y="262.4" width="1.7" height="1.7" fill="#d88b12"/>
<rect x="393.0" y="262.5" width="1.7" height="1.7" fill="#d88b12"/>
<rect x="395.7" y="262.3" width="1.7" height="1.7" fill="#d88b12"/>
<rect x="403.9" y="264.2" width="1.7" height="1.7" fill="#d88b12"/>
<rect x="400.7" y="259.1" width="1.7" height="1.7" fill="#d88b12"/>
<rect x="395.2" y="262.7" width="1.7" height="1.7" fill="#d88b12"/>
<rect x="393.8" y="251.4" width="1.7" height="1.7" fill="#d88b12"/>
<rect x="395.3" y="262.6" width="1.7" height="1.7" fill="#d88b12"/>
<rect x="396.4" y="255.0" width="1.7" height="1.7" fill="#d88b12"/>
<rect x="402.7" y="260.6" width="1.7" height="1.7" fill="#d88b12"/>
<rect x="398.9" y="265.6" width="1.7" height="1.7" fill="#d88b12"/>
<rect x="403.2" y="265.8" width="1.7" height="1.7" fill="#d88b12"/>
<rect x="396.7" y="263.1" width="1.7" height="1.7" fill="#d88b12"/>
<rect x="401.1" y="259.1" width="1.7" height="1.7" fill="#d88b12"/>
<rect x="396.4" y="251.3" width="1.7" height="1.7" fill="#d88b12"/>
<rect x="403.9" y="266.3" width="1.7" height="1.7" fill="#d88b12"/>
<rect x="400.0" y="262.2" width="1.7" height="1.7" fill="#d88b12"/>
<rect x="396.6" y="262.1" width="1.7" height="1.7" fill="#d88b12"/>
<rect x="396.1" y="258.9" width="1.7" height="1.7" fill="#d88b12"/>
<rect x="407.0" y="264.3" width="1.7" height="1.7" fill="#0b0b92"/>
<rect x="411.2" y="259.2" width="1.7" height="1.7" fill="#0b0b92"/>
<rect x="411.9" y="263.6" width="1.7" height="1.7" fill="#0b0b92"/>
<rect x="412.4" y="257.0" width="1.7" height="1.7" fill="#0b0b92"/>
<rect x="412.1" y="264.7" width="1.7" height="1.7" fill="#0b0b92"/>
<rect x="409.9" y="265.4" width="1.7" height="1.7" fill="#0b0b92"/>
<rect x="413.0" y="265.3" width="1.7" height="1.7" fill="#0b0b92"/>
<rect x="409.0" y="260.5" width="1.7" height="1.7" fill="#0b0b92"/>
<rect x="410.3" y="264.7" width="1.7" height="1.7" fill="#0b0b92"/>
<rect x="412.2" y="263.2" width="1.7" height="1.7" fill="#0b0b92"/>
<rect x="410.2" y="264.6" width="1.7" height="1.7" fill="#0b0b92"/>
<rect x="410.6" y="264.6" width="1.7" height="1.7" fill="#0b0b92"/>
<rect x="420.9" y="263.7" width="1.7" height="1.7" fill="#d88b12"/>
<rect x="421.6" y="259.9" width="1.7" height="1.7" fill="#d88b12"/>
<rect x="418.2" y="259.0" width="1.7" height="1.7" fill="#d88b12"/>
<rect x="418.2" y="265.1" width="1.7" height="1.7" fill="#d88b12"/>
<rect x="416.6" y="254.3" width="1.7" height="1.7" fill="#d88b12"/>
<rect x="420.2" y="256.8" width="1.7" height="1.7" fill="#d88b12"/>
<rect x="416.7" y="260.4" width="1.7" height="1.7" fill="#d88b12"/>
<rect x="415.9" y="264.7" width="1.7" height="1.7" fill="#d88b12"/>
<rect x="419.6" y="252.8" width="1.7" height="1.7" fill="#d88b12"/>
<rect x="416.0" y="261.9" width="1.7" height="1.7" fill="#d88b12"/>
<rect x="4.5" y="264.3" width="1" height="1" fill="#fff" opacity="0.8"/>
<rect x="1.0" y="262.2" width="1" height="1" fill="#fff" opacity="0.8"/>
<rect x="47.7" y="264.1" width="1" height="1" fill="#fff" opacity="0.8"/>
<rect x="61.3" y="263.5" width="1" height="1" fill="#fff" opacity="0.8"/>
<rect x="67.6" y="261.0" width="1" height="1" fill="#fff" opacity="0.8"/>
<rect x="61.2" y="267.3" width="1" height="1" fill="#fff" opacity="0.8"/>
<rect x="62.4" y="263.2" width="1" height="1" fill="#fff" opacity="0.8"/>
<rect x="56.8" y="267.9" width="1" height="1" fill="#fff" opacity="0.8"/>
<rect x="72.9" y="258.7" width="1" height="1" fill="#fff" opacity="0.8"/>
<rect x="108.2" y="269.2" width="1" height="1" fill="#fff" opacity="0.8"/>
<rect x="86.7" y="267.6" width="1" height="1" fill="#fff" opacity="0.8"/>
<rect x="101.1" y="268.3" width="1" height="1" fill="#fff" opacity="0.8"/>
<rect x="103.2" y="265.8" width="1" height="1" fill="#fff" opacity="0.8"/>
<rect x="105.6" y="270.0" width="1" height="1" fill="#fff" opacity="0.8"/>
<rect x="99.6" y="268.1" width="1" height="1" fill="#fff" opacity="0.8"/>
<rect x="101.7" y="265.8" width="1" height="1" fill="#fff" opacity="0.8"/>
<rect x="100.5" y="264.7" width="1" height="1" fill="#fff" opacity="0.8"/>
<rect x="123.3" y="265.1" width="1" height="1" fill="#fff" opacity="0.8"/>
<rect x="114.5" y="264.9" width="1" height="1" fill="#fff" opacity="0.8"/>
<rect x="113.7" y="263.0" width="1" height="1" fill="#fff" opacity="0.8"/>
<rect x="130.2" y="262.9" width="1" height="1" fill="#fff" opacity="0.8"/>
<rect x="128.9" y="262.4" width="1" height="1" fill="#fff" opacity="0.8"/>
<rect x="124.8" y="262.9" width="1" height="1" fill="#fff" opacity="0.8"/>
<rect x="121.1" y="266.6" width="1" height="1" fill="#fff" opacity="0.8"/>
<rect x="157.8" y="266.6" width="1" height="1" fill="#fff" opacity="0.8"/>
<rect x="159.5" y="268.9" width="1" height="1" fill="#fff" opacity="0.8"/>
<rect x="152.4" y="266.1" width="1" height="1" fill="#fff" opacity="0.8"/>
<rect x="145.6" y="268.6" width="1" height="1" fill="#fff" opacity="0.8"/>
<rect x="166.4" y="266.5" width="1" height="1" fill="#fff" opacity="0.8"/>
<rect x="146.1" y="265.7" width="1" height="1" fill="#fff" opacity="0.8"/>
<rect x="186.2" y="265.9" width="1" height="1" fill="#fff" opacity="0.8"/>
<rect x="182.8" y="266.9" width="1" height="1" fill="#fff" opacity="0.8"/>
<rect x="188.3" y="265.6" width="1" height="1" fill="#fff" opacity="0.8"/>
<rect x="184.0" y="266.3" width="1" height="1" fill="#fff" opacity="0.8"/>
<rect x="178.4" y="265.1" width="1" height="1" fill="#fff" opacity="0.8"/>
<rect x="210.8" y="267.0" width="1" height="1" fill="#fff" opacity="0.8"/>
<rect x="211.1" y="269.5" width="1" height="1" fill="#fff" opacity="0.8"/>
<rect x="204.6" y="268.1" width="1" height="1" fill="#fff" opacity="0.8"/>
<rect x="214.1" y="266.3" width="1" height="1" fill="#fff" opacity="0.8"/>
<rect x="200.5" y="267.3" width="1" height="1" fill="#fff" opacity="0.8"/>
<rect x="228.8" y="272.7" width="1" height="1" fill="#fff" opacity="0.8"/>
<rect x="241.7" y="269.6" width="1" height="1" fill="#fff" opacity="0.8"/>
<rect x="224.6" y="270.2" width="1" height="1" fill="#fff" opacity="0.8"/>
<rect x="243.3" y="268.0" width="1" height="1" fill="#fff" opacity="0.8"/>
<rect x="223.3" y="267.9" width="1" height="1" fill="#fff" opacity="0.8"/>
<rect x="228.6" y="270.0" width="1" height="1" fill="#fff" opacity="0.8"/>
<rect x="248.7" y="262.9" width="1" height="1" fill="#fff" opacity="0.8"/>
<rect x="270.2" y="265.9" width="1" height="1" fill="#fff" opacity="0.8"/>
<rect x="257.6" y="264.1" width="1" height="1" fill="#fff" opacity="0.8"/>
<rect x="258.4" y="263.9" width="1" height="1" fill="#fff" opacity="0.8"/>
<rect x="267.0" y="269.0" width="1" height="1" fill="#fff" opacity="0.8"/>
<rect x="253.5" y="262.4" width="1" height="1" fill="#fff" opacity="0.8"/>
<rect x="281.4" y="267.1" width="1" height="1" fill="#fff" opacity="0.8"/>
<rect x="280.0" y="266.2" width="1" height="1" fill="#fff" opacity="0.8"/>
<rect x="276.5" y="268.9" width="1" height="1" fill="#fff" opacity="0.8"/>
<rect x="286.4" y="269.8" width="1" height="1" fill="#fff" opacity="0.8"/>
<rect x="294.0" y="262.9" width="1" height="1" fill="#fff" opacity="0.8"/>
<rect x="315.4" y="268.0" width="1" height="1" fill="#fff" opacity="0.8"/>
<rect x="303.8" y="267.8" width="1" height="1" fill="#fff" opacity="0.8"/>
<rect x="303.2" y="265.4" width="1" height="1" fill="#fff" opacity="0.8"/>
<rect x="310.3" y="269.9" width="1" height="1" fill="#fff" opacity="0.8"/>
<rect x="315.3" y="271.3" width="1" height="1" fill="#fff" opacity="0.8"/>
<rect x="322.7" y="266.6" width="1" height="1" fill="#fff" opacity="0.8"/>
<rect x="331.9" y="266.8" width="1" height="1" fill="#fff" opacity="0.8"/>
<rect x="323.3" y="262.4" width="1" height="1" fill="#fff" opacity="0.8"/>
<rect x="326.1" y="262.6" width="1" height="1" fill="#fff" opacity="0.8"/>
<rect x="335.1" y="264.9" width="1" height="1" fill="#fff" opacity="0.8"/>
<rect x="345.8" y="268.4" width="1" height="1" fill="#fff" opacity="0.8"/>
<rect x="344.8" y="265.8" width="1" height="1" fill="#fff" opacity="0.8"/>
<rect x="356.1" y="268.6" width="1" height="1" fill="#fff" opacity="0.8"/>
<rect x="354.0" y="268.9" width="1" height="1" fill="#fff" opacity="0.8"/>
<rect x="362.6" y="270.4" width="1" height="1" fill="#fff" opacity="0.8"/>
<rect x="373.5" y="272.7" width="1" height="1" fill="#fff" opacity="0.8"/>
<rect x="376.4" y="267.3" width="1" height="1" fill="#fff" opacity="0.8"/>
<rect x="371.3" y="266.9" width="1" height="1" fill="#fff" opacity="0.8"/>
<rect x="385.3" y="272.3" width="1" height="1" fill="#fff" opacity="0.8"/>
<rect x="385.2" y="269.5" width="1" height="1" fill="#fff" opacity="0.8"/>
<rect x="397.4" y="271.6" width="1" height="1" fill="#fff" opacity="0.8"/>
<rect x="400.3" y="270.3" width="1" height="1" fill="#fff" opacity="0.8"/>
<rect x="404.2" y="267.6" width="1" height="1" fill="#fff" opacity="0.8"/>
<rect x="407.8" y="268.3" width="1" height="1" fill="#fff" opacity="0.8"/>
<rect x="409.1" y="270.3" width="1" height="1" fill="#fff" opacity="0.8"/>
<rect x="416.9" y="267.1" width="1" height="1" fill="#fff" opacity="0.8"/>
<rect x="417.1" y="272.6" width="1" height="1" fill="#fff" opacity="0.8"/>
<path d="M177.2 250 L182.8 250 L182.4 268 L181.2 282 L180.7 296 L179.7 305.6 L179.1 305.6 L178.4 292 L177.9 276 Z" fill="#fff"/>
<rect x="0" y="2.7" width="423.7" height="1.1" fill="#d2d2d2"/>
<rect x="423.2" y="0" width="1" height="305.6" fill="#d4d4d4"/>
<path d="M422 12.8 Q422.9 10.2 425.2 9.6 M422 17 Q423.1 14.6 425.2 13.9" stroke="#444" stroke-width="1.1" fill="none"/>
<rect x="6.4" y="52.0" width="1.6" height="6.0" fill="#0b0b92"/>
<rect x="6.3" y="80.1" width="1.8" height="1.8" fill="#0b0b92"/>
<rect x="6.3" y="104.1" width="1.8" height="1.8" fill="#0b0b92"/>
<rect x="6.3" y="106.1" width="1.8" height="1.8" fill="#0b0b92"/>
<rect x="6.3" y="118.1" width="1.8" height="1.8" fill="#0b0b92"/>
<rect x="6.3" y="120.1" width="1.8" height="1.8" fill="#0b0b92"/>
<rect x="6.3" y="128.1" width="1.8" height="1.8" fill="#0b0b92"/>
<rect x="6.3" y="192.5" width="1.8" height="1.8" fill="#0b0b92"/>
<rect x="6.3" y="199.1" width="1.8" height="1.8" fill="#0b0b92"/>
<rect x="6.8" y="146.1" width="1.8" height="1.8" fill="#0b0b92"/>
<rect x="6.5" y="166.0" width="1.4" height="6.5" fill="#0b0b92"/>
<rect x="6.2" y="227.0" width="1.6" height="35.0" fill="#0b0b92"/>
<rect x="2.4" y="232.0" width="1.2" height="30.0" fill="#0b0b92"/>
<rect x="43.4" y="15.1" width="1.8" height="1.8" fill="#0b0b92"/>
<rect x="44.2" y="49.5" width="2.0" height="2.0" fill="#0b0b92"/>
<rect x="44.2" y="86.3" width="2.0" height="2.0" fill="#0b0b92"/>
<rect x="44.2" y="92.7" width="2.0" height="2.0" fill="#0b0b92"/>
<rect x="44.2" y="109.0" width="2.0" height="2.0" fill="#0b0b92"/>
<rect x="44.2" y="117.4" width="2.0" height="2.0" fill="#0b0b92"/>
<rect x="44.2" y="120.0" width="2.0" height="2.0" fill="#0b0b92"/>
<rect x="44.2" y="126.5" width="2.0" height="2.0" fill="#0b0b92"/>
<rect x="44.2" y="135.0" width="2.0" height="2.0" fill="#0b0b92"/>
<rect x="44.2" y="165.8" width="2.0" height="2.0" fill="#0b0b92"/>
<rect x="44.2" y="180.0" width="2.0" height="2.0" fill="#0b0b92"/>
<rect x="44.2" y="198.0" width="2.0" height="2.0" fill="#0b0b92"/>
<rect x="44.2" y="203.0" width="2.0" height="2.0" fill="#0b0b92"/>
<rect x="44.2" y="207.0" width="2.0" height="2.0" fill="#0b0b92"/>
<rect x="44.2" y="214.0" width="2.0" height="2.0" fill="#0b0b92"/>
<rect x="44.2" y="217.0" width="2.0" height="2.0" fill="#0b0b92"/>
<rect x="44.2" y="220.0" width="2.0" height="2.0" fill="#0b0b92"/>
<rect x="44.2" y="224.0" width="2.0" height="2.0" fill="#0b0b92"/>
<rect x="44.2" y="228.0" width="2.0" height="2.0" fill="#0b0b92"/>
<rect x="44.4" y="232.0" width="1.7" height="30.0" fill="#0b0b92"/>
<rect x="85.7" y="179.1" width="1.8" height="1.8" fill="#d88b12"/>
<rect x="85.7" y="185.1" width="1.8" height="1.8" fill="#d88b12"/>
<rect x="85.7" y="190.1" width="1.8" height="1.8" fill="#d88b12"/>
<line x1="86.0" y1="195" x2="86.0" y2="229" stroke="#d88b12" stroke-width="1.8" stroke-dasharray="2.5 1"/>
<rect x="83.6" y="229.0" width="4.0" height="33.0" fill="#d88b12"/>
<rect x="87.9" y="246.0" width="1.6" height="16.0" fill="#d88b12"/>
<rect x="100.5" y="139.7" width="1.5" height="1.5" fill="#d88b12"/>
<rect x="100.5" y="146.8" width="1.5" height="1.5" fill="#d88b12"/>
<rect x="100.5" y="152.2" width="1.5" height="1.5" fill="#d88b12"/>
<rect x="100.5" y="157.2" width="1.5" height="1.5" fill="#d88b12"/>
<line x1="101.1" y1="161" x2="101.1" y2="262" stroke="#d88b12" stroke-width="1.6" stroke-dasharray="3 1.3"/>
<rect x="88.6" y="248.1" width="1.8" height="1.8" fill="#d88b12"/>
<rect x="88.6" y="251.1" width="1.8" height="1.8" fill="#d88b12"/>
<rect x="88.6" y="254.1" width="1.8" height="1.8" fill="#d88b12"/>
<rect x="88.6" y="257.1" width="1.8" height="1.8" fill="#d88b12"/>
<rect x="134.1" y="219.1" width="1.8" height="1.8" fill="#0b0b92"/>
<rect x="134.1" y="223.1" width="1.8" height="1.8" fill="#0b0b92"/>
<rect x="134.1" y="227.1" width="1.8" height="1.8" fill="#0b0b92"/>
<rect x="134.1" y="231.1" width="1.8" height="1.8" fill="#0b0b92"/>
<rect x="134.1" y="235.1" width="1.8" height="1.8" fill="#0b0b92"/>
<rect x="134.1" y="239.1" width="1.8" height="1.8" fill="#0b0b92"/>
<rect x="134.1" y="243.1" width="1.8" height="1.8" fill="#0b0b92"/>
<rect x="134.1" y="247.1" width="1.8" height="1.8" fill="#0b0b92"/>
<rect x="134.1" y="251.1" width="1.8" height="1.8" fill="#0b0b92"/>
<rect x="134.1" y="255.1" width="1.8" height="1.8" fill="#0b0b92"/>
<rect x="134.1" y="259.1" width="1.8" height="1.8" fill="#0b0b92"/>
<rect x="126.1" y="249.1" width="1.8" height="1.8" fill="#0b0b92"/>
<rect x="126.1" y="253.1" width="1.8" height="1.8" fill="#0b0b92"/>
<rect x="130.1" y="245.1" width="1.8" height="1.8" fill="#0b0b92"/>
<rect x="130.1" y="251.1" width="1.8" height="1.8" fill="#0b0b92"/>
<rect x="172.8" y="227.1" width="1.8" height="1.8" fill="#0b0b92"/>
<rect x="172.8" y="235.1" width="1.8" height="1.8" fill="#0b0b92"/>
<rect x="172.8" y="245.0" width="1.7" height="17.0" fill="#0b0b92"/>
<rect x="217.1" y="33.0" width="1.2" height="10.0" fill="#c87a3a"/>
<rect x="217.0" y="49.3" width="1.4" height="1.4" fill="#bb8a45"/>
<rect x="217.0" y="74.3" width="1.4" height="1.4" fill="#bb8a45"/>
<rect x="217.0" y="76.3" width="1.4" height="1.4" fill="#bb8a45"/>
<rect x="217.0" y="80.7" width="1.4" height="1.4" fill="#bb8a45"/>
<rect x="217.0" y="84.3" width="1.4" height="1.4" fill="#bb8a45"/>
<rect x="217.0" y="87.3" width="1.4" height="1.4" fill="#bb8a45"/>
<rect x="217.0" y="90.3" width="1.4" height="1.4" fill="#bb8a45"/>
<rect x="217.0" y="95.8" width="1.4" height="1.4" fill="#bb8a45"/>
<rect x="217.0" y="89.3" width="1.4" height="1.4" fill="#bb8a45"/>
<rect x="217.0" y="93.3" width="1.4" height="1.4" fill="#bb8a45"/>
<rect x="217.0" y="96.8" width="1.4" height="1.4" fill="#bb8a45"/>
<rect x="217.0" y="101.3" width="1.4" height="1.4" fill="#bb8a45"/>
<rect x="217.0" y="104.3" width="1.4" height="1.4" fill="#bb8a45"/>
<rect x="217.0" y="107.3" width="1.4" height="1.4" fill="#bb8a45"/>
<rect x="217.0" y="110.0" width="1.4" height="1.4" fill="#bb8a45"/>
<rect x="217.0" y="114.7" width="1.4" height="1.4" fill="#bb8a45"/>
<rect x="217.0" y="119.3" width="1.4" height="1.4" fill="#bb8a45"/>
<rect x="217.0" y="122.3" width="1.4" height="1.4" fill="#bb8a45"/>
<rect x="217.0" y="128.8" width="1.4" height="1.4" fill="#bb8a45"/>
<rect x="217.0" y="148.3" width="1.4" height="1.4" fill="#bb8a45"/>
<rect x="217.0" y="152.3" width="1.4" height="1.4" fill="#bb8a45"/>
<rect x="217.0" y="157.3" width="1.4" height="1.4" fill="#bb8a45"/>
<rect x="217.0" y="165.3" width="1.4" height="1.4" fill="#bb8a45"/>
<rect x="217.0" y="170.3" width="1.4" height="1.4" fill="#bb8a45"/>
<rect x="217.0" y="176.3" width="1.4" height="1.4" fill="#bb8a45"/>
<rect x="217.0" y="179.8" width="1.4" height="1.4" fill="#bb8a45"/>
<rect x="217.0" y="184.3" width="1.4" height="1.4" fill="#bb8a45"/>
<rect x="217.0" y="218.3" width="1.4" height="1.4" fill="#bb8a45"/>
<rect x="217.0" y="229.3" width="1.4" height="1.4" fill="#bb8a45"/>
<rect x="217.0" y="236.3" width="1.4" height="1.4" fill="#bb8a45"/>
<line x1="218.3" y1="245" x2="218.3" y2="266" stroke="#d88b12" stroke-width="2.0" stroke-dasharray="2.2 1"/>
<rect x="243.5" y="231.0" width="1.6" height="31.0" fill="#0b0b92"/>
<rect x="232.0" y="246.0" width="1.6" height="16.0" fill="#0b0b92"/>
<line x1="238.7" y1="246" x2="238.7" y2="266" stroke="#0b0b92" stroke-width="1.7" stroke-dasharray="2.5 1"/>
<line x1="228.1" y1="251" x2="228.1" y2="266" stroke="#0b0b92" stroke-width="1.6" stroke-dasharray="2.5 1"/>
<rect x="240.1" y="237.1" width="1.8" height="1.8" fill="#0b0b92"/>
<rect x="240.1" y="248.1" width="1.8" height="1.8" fill="#0b0b92"/>
<rect x="240.1" y="255.1" width="1.8" height="1.8" fill="#0b0b92"/>
<rect x="225.1" y="251.1" width="1.8" height="1.8" fill="#0b0b92"/>
<rect x="225.1" y="256.1" width="1.8" height="1.8" fill="#0b0b92"/>
<rect x="256.1" y="226.1" width="1.8" height="1.8" fill="#d88b12"/>
<rect x="256.1" y="230.1" width="1.8" height="1.8" fill="#d88b12"/>
<rect x="256.1" y="234.1" width="1.8" height="1.8" fill="#d88b12"/>
<rect x="256.1" y="238.1" width="1.8" height="1.8" fill="#d88b12"/>
<rect x="256.1" y="242.1" width="1.8" height="1.8" fill="#d88b12"/>
<rect x="256.1" y="246.1" width="1.8" height="1.8" fill="#d88b12"/>
<rect x="256.1" y="250.1" width="1.8" height="1.8" fill="#d88b12"/>
<rect x="256.1" y="254.1" width="1.8" height="1.8" fill="#d88b12"/>
<rect x="300.5" y="240.0" width="2.0" height="22.0" fill="#d88b12"/>
<rect x="332.9" y="250.1" width="1.8" height="1.8" fill="#0b0b92"/>
<rect x="332.9" y="253.1" width="1.8" height="1.8" fill="#0b0b92"/>
<rect x="332.9" y="257.1" width="1.8" height="1.8" fill="#0b0b92"/>
<rect x="297.3" y="250.1" width="1.8" height="1.8" fill="#d88b12"/>
<rect x="297.3" y="253.6" width="1.8" height="1.8" fill="#d88b12"/>
<rect x="297.3" y="257.1" width="1.8" height="1.8" fill="#d88b12"/>
<rect x="324.1" y="246.0" width="1.6" height="16.0" fill="#0b0b92"/>
<rect x="362.7" y="209.0" width="1.8" height="30.0" fill="#0b0b92"/>
<rect x="362.7" y="241.0" width="1.8" height="21.0" fill="#0b0b92"/>
<rect x="418.1" y="252.0" width="1.8" height="12.0" fill="#d88b12"/>
<rect x="366.5" y="254.0" width="1.4" height="10.0" fill="#d88b12"/>
<rect x="381.0" y="256.0" width="1.4" height="6.0" fill="#0b0b92"/>
<rect x="0" y="234" width="423.2" height="1.6" fill="#dd6a72"/>
<circle cx="44" cy="11.2" r="2.1" fill="#33d13c"/>
<circle cx="6.9" cy="51.4" r="2.1" fill="#33d13c"/>
<circle cx="101.4" cy="124.6" r="2.1" fill="#33d13c"/>
<circle cx="86.9" cy="169.6" r="2.1" fill="#33d13c"/>
<circle cx="85.1" cy="198.6" r="2.1" fill="#33d13c"/>
<circle cx="135" cy="216.8" r="2.1" fill="#33d13c"/>
<circle cx="173.7" cy="220.3" r="2.1" fill="#33d13c"/>
<circle cx="2.8" cy="243.8" r="2.1" fill="#33d13c"/>
<circle cx="16.9" cy="244" r="2.1" fill="#33d13c"/>
<circle cx="38.2" cy="256.6" r="2.1" fill="#33d13c"/>
<circle cx="89" cy="246.3" r="2.1" fill="#33d13c"/>
<circle cx="217.7" cy="31.2" r="2.1" fill="#33d13c"/>
<circle cx="244.3" cy="229.8" r="2.1" fill="#33d13c"/>
<circle cx="218.8" cy="243" r="2.1" fill="#33d13c"/>
<circle cx="233.5" cy="245" r="2.1" fill="#33d13c"/>
<circle cx="301.5" cy="238.6" r="2.1" fill="#33d13c"/>
<circle cx="325.2" cy="245.2" r="2.1" fill="#33d13c"/>
<circle cx="324.6" cy="251.2" r="2.1" fill="#33d13c"/>
<circle cx="363.6" cy="207.5" r="2.1" fill="#33d13c"/>
<circle cx="381.7" cy="256" r="2.1" fill="#33d13c"/>
<path d="M16.3 229.15L19.05 231.9L16.3 234.65L13.55 231.9Z" fill="#d8141e"/>
<path d="M38.8 231.25L41.55 234L38.8 236.75L36.05 234Z" fill="#d8141e"/>
<path d="M90.5 215.85L93.25 218.6L90.5 221.35L87.75 218.6Z" fill="#d8141e"/>
<path d="M220.3 201.55L223.05 204.3L220.3 207.05L217.55 204.3Z" fill="#d8141e"/>
<path d="M232.9 169.25L235.65 172L232.9 174.75L230.15 172Z" fill="#d8141e"/>
<path d="M326.1 225.15L328.85 227.9L326.1 230.65L323.35 227.9Z" fill="#d8141e"/>
<path d="M323.2 170.85L325.95 173.6L323.2 176.35L320.45 173.6Z" fill="#d8141e"/>
<path d="M381.6 219.75L384.35 222.5L381.6 225.25L378.85 222.5Z" fill="#d8141e"/>
<rect x="0" y="142.8" width="6.3" height="7.5" fill="#000"/>
<rect x="298" y="187.6" width="7.3" height="7.7" fill="#000"/>
<rect x="48.2" y="2.6" width="31.1" height="17.0" fill="#bdb98a" opacity="0.9" filter="url(#sh)"/>
<rect x="47.0" y="1.4" width="31.1" height="17.0" fill="#fcf89c"/>
<text x="62.5" y="8.4" font-size="6.2" font-weight="bold" text-anchor="middle" fill="#111" stroke="#111" stroke-width="0.2">5p15.33</text>
<text x="62.5" y="15.4" font-size="6.2" font-weight="bold" text-anchor="middle" fill="#111" stroke="#111" stroke-width="0.2" font-style="italic">TERT</text>
<rect x="-4.8" y="32.7" width="30.0" height="16.3" fill="#bdb98a" opacity="0.9" filter="url(#sh)"/>
<rect x="-6.0" y="31.5" width="30.0" height="16.3" fill="#fcf89c"/>
<text x="8.6" y="39.3" font-size="6.2" font-weight="bold" text-anchor="middle" fill="#111" stroke="#111" stroke-width="0.2">3q28</text>
<text x="8.6" y="45.6" font-size="6.2" font-weight="bold" text-anchor="middle" fill="#111" stroke="#111" stroke-width="0.2" font-style="italic">TP63</text>
<rect x="53.0" y="87.4" width="46.4" height="17.4" fill="#bdb98a" opacity="0.9" filter="url(#sh)"/>
<rect x="51.8" y="86.2" width="46.4" height="17.4" fill="#fcf89c"/>
<text x="75.0" y="93.8" font-size="6.2" font-weight="bold" text-anchor="middle" fill="#111" stroke="#111" stroke-width="0.2">5p15.33 <tspan font-style="italic">TERT</tspan></text>
<text x="75.0" y="101.1" font-size="6.2" font-weight="bold" text-anchor="middle" fill="#111" stroke="#111" stroke-width="0.2">(conditional)</text>
<rect x="103.5" y="103.4" width="53.2" height="17.6" fill="#bdb98a" opacity="0.9" filter="url(#sh)"/>
<rect x="102.3" y="102.2" width="53.2" height="17.6" fill="#fcf89c"/>
<text x="128.9" y="109.4" font-size="6.2" font-weight="bold" text-anchor="middle" fill="#111" stroke="#111" stroke-width="0.2">6q22.2</text>
<text x="128.9" y="116.8" font-size="6.2" font-weight="bold" text-anchor="middle" fill="#111" stroke="#111" stroke-width="0.2" font-style="italic">ROS1, DCBLD1</text>
<rect x="68.3" y="150.9" width="29.4" height="16.9" fill="#bdb98a" opacity="0.9" filter="url(#sh)"/>
<rect x="67.1" y="149.7" width="29.4" height="16.9" fill="#fcf89c"/>
<text x="81.8" y="157.2" font-size="6.2" font-weight="bold" text-anchor="middle" fill="#111" stroke="#111" stroke-width="0.2">6p21.1</text>
<text x="81.8" y="164.6" font-size="6.2" font-weight="bold" text-anchor="middle" fill="#111" stroke="#111" stroke-width="0.2" font-style="italic">FOXP4</text>
<rect x="105.9" y="168.6" width="48.9" height="17.6" fill="#bdb98a" opacity="0.9" filter="url(#sh)"/>
<rect x="104.7" y="167.4" width="48.9" height="17.6" fill="#fcf89c"/>
<text x="129.2" y="174.6" font-size="6.2" font-weight="bold" text-anchor="middle" fill="#c23818" stroke="#c23818" stroke-width="0.2" font-style="italic">6p21.1 FOXP4</text>
<text x="129.2" y="181.7" font-size="6.2" font-weight="bold" text-anchor="middle" fill="#c23818" stroke="#c23818" stroke-width="0.2">(conditional)</text>
<rect x="-3.8" y="173.8" width="46.8" height="17.7" fill="#bdb98a" opacity="0.9" filter="url(#sh)"/>
<rect x="-5.0" y="172.6" width="46.8" height="17.7" fill="#fcf89c"/>
<text x="18.4" y="181.0" text-anchor="end" font-size="6.2" font-weight="bold" fill="#111" stroke="#111" stroke-width="0.2">5p15.33</text>
<text x="22.4" y="181.0" font-style="italic" font-size="6.2" font-weight="bold" fill="#111" stroke="#111" stroke-width="0.2">TERT</text>
<text x="35.6" y="188.0" text-anchor="end" font-size="6.2" font-weight="bold" fill="#111" stroke="#111" stroke-width="0.2">(conditional)</text>
<rect x="50.0" y="194.4" width="31.8" height="17.4" fill="#bdb98a" opacity="0.9" filter="url(#sh)"/>
<rect x="48.8" y="193.2" width="31.8" height="17.4" fill="#fcf89c"/>
<text x="65.2" y="201.0" font-size="6.2" font-weight="bold" text-anchor="middle" fill="#c23818" stroke="#c23818" stroke-width="0.2">6p12.1</text>
<text x="65.2" y="208.2" font-size="6.2" font-weight="bold" text-anchor="middle" fill="#c23818" stroke="#c23818" stroke-width="0.2" font-style="italic">GCLC</text>
<rect x="121.5" y="198.4" width="28.6" height="18.0" fill="#bdb98a" opacity="0.9" filter="url(#sh)"/>
<rect x="120.3" y="197.2" width="28.6" height="18.0" fill="#fcf89c"/>
<text x="134.6" y="204.7" font-size="6.2" font-weight="bold" text-anchor="middle" fill="#c23818" stroke="#c23818" stroke-width="0.2">7q31.33</text>
<text x="134.6" y="211.9" font-size="6.2" font-weight="bold" text-anchor="middle" fill="#c23818" stroke="#c23818" stroke-width="0.2" font-style="italic">GPR37</text>
<rect x="153.3" y="199.9" width="48.7" height="18.2" fill="#bdb98a" opacity="0.9" filter="url(#sh)"/>
<rect x="152.1" y="198.7" width="48.7" height="18.2" fill="#fcf89c"/>
<text x="176.4" y="207.2" font-size="6.2" font-weight="bold" text-anchor="middle" fill="#111" stroke="#111" stroke-width="0.2">9p21.3</text>
<text x="176.4" y="214.5" font-size="6.2" font-weight="bold" text-anchor="middle" fill="#111" stroke="#111" stroke-width="0.2" font-style="italic">CDKN2B-AS1</text>
<rect x="2.3" y="211.5" width="28.5" height="16.9" fill="#bdb98a" opacity="0.9" filter="url(#sh)"/>
<rect x="1.1" y="210.3" width="28.5" height="16.9" fill="#fcf89c"/>
<text x="15.4" y="217.2" font-size="6.2" font-weight="bold" text-anchor="middle" fill="#c23818" stroke="#c23818" stroke-width="0.2">4p13</text>
<text x="15.4" y="224.2" font-size="6.2" font-weight="bold" text-anchor="middle" fill="#c23818" stroke="#c23818" stroke-width="0.2" font-style="italic">KCTD8</text>
<rect x="9.3" y="260.2" width="32.6" height="19.8" fill="#bdb98a" opacity="0.9" filter="url(#sh)"/>
<rect x="8.1" y="259.0" width="32.6" height="19.8" fill="#fcf89c"/>
<text x="24.4" y="268.2" font-size="6.2" font-weight="bold" text-anchor="middle" fill="#c23818" stroke="#c23818" stroke-width="0.2">4q32.1</text>
<text x="24.4" y="275.5" font-size="6.2" font-weight="bold" text-anchor="middle" fill="#c23818" stroke="#c23818" stroke-width="0.2" font-style="italic">PDGFC</text>
<rect x="22.1" y="261.0" width="1.7" height="1.7" fill="#d88b12" opacity="0.9"/>
<rect x="15.4" y="260.7" width="1.7" height="1.7" fill="#d88b12" opacity="0.9"/>
<rect x="32.8" y="260.7" width="1.7" height="1.7" fill="#d88b12" opacity="0.9"/>
<rect x="21.5" y="256.8" width="1.7" height="1.7" fill="#d88b12" opacity="0.9"/>
<rect x="26.2" y="249.5" width="1.7" height="1.7" fill="#d88b12" opacity="0.9"/>
<rect x="24.7" y="259.5" width="1.7" height="1.7" fill="#d88b12" opacity="0.9"/>
<rect x="28.4" y="260.9" width="1.7" height="1.7" fill="#d88b12" opacity="0.9"/>
<rect x="37.1" y="259.9" width="1.7" height="1.7" fill="#d88b12" opacity="0.9"/>
<rect x="21.6" y="256.8" width="1.7" height="1.7" fill="#d88b12" opacity="0.9"/>
<rect x="14.6" y="257.1" width="1.7" height="1.7" fill="#d88b12" opacity="0.9"/>
<rect x="35.5" y="260.1" width="1.7" height="1.7" fill="#d88b12" opacity="0.9"/>
<rect x="38.4" y="258.6" width="1.7" height="1.7" fill="#d88b12" opacity="0.9"/>
<rect x="33.2" y="259.2" width="1.7" height="1.7" fill="#d88b12" opacity="0.9"/>
<rect x="22.1" y="260.6" width="1.7" height="1.7" fill="#d88b12" opacity="0.9"/>
<rect x="10.2" y="261.0" width="1.7" height="1.7" fill="#d88b12" opacity="0.9"/>
<rect x="39.7" y="258.6" width="1.7" height="1.7" fill="#d88b12" opacity="0.9"/>
<rect x="23.9" y="251.6" width="1.7" height="1.7" fill="#d88b12" opacity="0.9"/>
<rect x="20.7" y="260.9" width="1.7" height="1.7" fill="#d88b12" opacity="0.9"/>
<rect x="37.6" y="261.2" width="1.7" height="1.7" fill="#d88b12" opacity="0.9"/>
<rect x="33.8" y="257.9" width="1.7" height="1.7" fill="#d88b12" opacity="0.9"/>
<rect x="39.5" y="249.0" width="1.7" height="1.7" fill="#d88b12" opacity="0.9"/>
<rect x="29.8" y="261.8" width="1.7" height="1.7" fill="#d88b12" opacity="0.9"/>
<rect x="10.7" y="259.1" width="1.7" height="1.7" fill="#d88b12" opacity="0.9"/>
<rect x="34.6" y="261.6" width="1.7" height="1.7" fill="#d88b12" opacity="0.9"/>
<rect x="22.8" y="261.6" width="1.7" height="1.7" fill="#d88b12" opacity="0.9"/>
<rect x="19.3" y="262.0" width="1.7" height="1.7" fill="#d88b12" opacity="0.9"/>
<rect x="19.9" y="258.7" width="1.7" height="1.7" fill="#d88b12" opacity="0.9"/>
<rect x="16.0" y="255.0" width="1.7" height="1.7" fill="#d88b12" opacity="0.9"/>
<rect x="11.7" y="260.9" width="1.7" height="1.7" fill="#d88b12" opacity="0.9"/>
<rect x="17.7" y="259.7" width="1.7" height="1.7" fill="#d88b12" opacity="0.9"/>
<rect x="32.9" y="260.0" width="1.7" height="1.7" fill="#d88b12" opacity="0.9"/>
<rect x="30.8" y="250.5" width="1.7" height="1.7" fill="#d88b12" opacity="0.9"/>
<rect x="13.9" y="253.0" width="1.7" height="1.7" fill="#d88b12" opacity="0.9"/>
<rect x="28.0" y="255.8" width="1.7" height="1.7" fill="#d88b12" opacity="0.9"/>
<rect x="28.2" y="259.6" width="1.7" height="1.7" fill="#d88b12" opacity="0.9"/>
<rect x="12.9" y="261.3" width="1.7" height="1.7" fill="#d88b12" opacity="0.9"/>
<rect x="15.2" y="261.1" width="1.7" height="1.7" fill="#d88b12" opacity="0.9"/>
<rect x="14.4" y="261.0" width="1.7" height="1.7" fill="#d88b12" opacity="0.9"/>
<rect x="26.8" y="255.4" width="1.7" height="1.7" fill="#d88b12" opacity="0.9"/>
<rect x="33.9" y="253.6" width="1.7" height="1.7" fill="#d88b12" opacity="0.9"/>
<rect x="13.5" y="254.2" width="1.7" height="1.7" fill="#d88b12" opacity="0.9"/>
<rect x="15.6" y="261.7" width="1.7" height="1.7" fill="#d88b12" opacity="0.9"/>
<rect x="18.6" y="258.0" width="1.7" height="1.7" fill="#d88b12" opacity="0.9"/>
<rect x="11.4" y="260.9" width="1.7" height="1.7" fill="#d88b12" opacity="0.9"/>
<line x1="24" y1="262" x2="38.8" y2="234" stroke="#98a2c4" stroke-width="0.7"/>
<circle cx="38.2" cy="256.6" r="2.1" fill="#33d13c"/>
<rect x="57.3" y="275.1" width="41.2" height="17.6" fill="#bdb98a" opacity="0.9" filter="url(#sh)"/>
<rect x="56.1" y="273.9" width="41.2" height="17.6" fill="#fcf89c"/>
<text x="76.7" y="282.1" font-size="6.2" font-weight="bold" text-anchor="middle" fill="#111" stroke="#111" stroke-width="0.2">6p21.32</text>
<text x="76.7" y="288.7" font-size="6.2" font-weight="bold" text-anchor="middle" fill="#111" stroke="#111" stroke-width="0.2" font-style="italic">MHC</text>
<rect x="102.7" y="280.2" width="39.4" height="17.5" fill="#bdb98a" opacity="0.9" filter="url(#sh)"/>
<rect x="101.5" y="279.0" width="39.4" height="17.5" fill="#fcf89c"/>
<text x="122.4" y="286.2" font-size="6.2" font-weight="bold" text-anchor="middle" fill="#111" stroke="#111" stroke-width="0.2">6p21.32</text>
<text x="122.4" y="293.2" font-size="6.2" font-weight="bold" text-anchor="middle" fill="#111" stroke="#111" stroke-width="0.2" font-style="italic">MHC</text>
<rect x="220.2" y="13.9" width="30.8" height="16.5" fill="#bdb98a" opacity="0.9" filter="url(#sh)"/>
<rect x="219.0" y="12.7" width="30.8" height="16.5" fill="#fcf89c"/>
<text x="234.4" y="19.4" font-size="6.2" font-weight="bold" text-anchor="middle" fill="#111" stroke="#111" stroke-width="0.2">10q25.2</text>
<text x="234.4" y="26.4" font-size="6.2" font-weight="bold" text-anchor="middle" fill="#111" stroke="#111" stroke-width="0.2" font-style="italic">VTI1A</text>
<rect x="235.0" y="152.7" width="34.2" height="16.4" fill="#bdb98a" opacity="0.9" filter="url(#sh)"/>
<rect x="233.8" y="151.5" width="34.2" height="16.4" fill="#fcf89c"/>
<text x="250.9" y="158.6" font-size="6.2" font-weight="bold" text-anchor="middle" fill="#c23818" stroke="#c23818" stroke-width="0.2">11q12.2</text>
<text x="250.9" y="165.8" font-size="6.2" font-weight="bold" text-anchor="middle" fill="#c23818" stroke="#c23818" stroke-width="0.2" font-style="italic">FADS1</text>
<rect x="223.7" y="179.0" width="35.1" height="24.2" fill="#bdb98a" opacity="0.9" filter="url(#sh)"/>
<rect x="222.5" y="177.8" width="35.1" height="24.2" fill="#fcf89c"/>
<text x="240.1" y="185.1" font-size="6.2" font-weight="bold" text-anchor="middle" fill="#c23818" stroke="#c23818" stroke-width="0.2">10q26.13</text>
<text x="240.1" y="192.0" font-size="6.2" font-weight="bold" text-anchor="middle" fill="#c23818" stroke="#c23818" stroke-width="0.2" font-style="italic">FAM53B,</text>
<text x="240.1" y="199.9" font-size="6.2" font-weight="bold" text-anchor="middle" fill="#c23818" stroke="#c23818" stroke-width="0.2" font-style="italic">METTL10</text>
<rect x="229.9" y="210.4" width="29.7" height="17.4" fill="#bdb98a" opacity="0.9" filter="url(#sh)"/>
<rect x="228.7" y="209.2" width="29.7" height="17.4" fill="#fcf89c"/>
<text x="244.1" y="216.4" font-size="6.2" font-weight="bold" text-anchor="middle" fill="#111" stroke="#111" stroke-width="0.2">11q23.3</text>
<text x="244.1" y="223.4" font-size="6.2" font-weight="bold" text-anchor="middle" fill="#111" stroke="#111" stroke-width="0.2" font-style="italic">AMICA1</text>
<rect x="260.0" y="201.7" width="46.1" height="16.9" fill="#bdb98a" opacity="0.9" filter="url(#sh)"/>
<rect x="258.8" y="200.5" width="46.1" height="16.9" fill="#fcf89c"/>
<text x="281.9" y="207.4" font-size="6.2" font-weight="bold" text-anchor="middle" fill="#111" stroke="#111" stroke-width="0.2">12q13.13</text>
<text x="281.9" y="214.4" font-size="6.2" font-weight="bold" text-anchor="middle" fill="#111" stroke="#111" stroke-width="0.2" font-style="italic">ACVR1B</text>
<rect x="285.4" y="179.6" width="30.4" height="9.4" fill="#bdb98a" opacity="0.9" filter="url(#sh)"/>
<rect x="284.2" y="178.4" width="30.4" height="9.4" fill="#fcf89c"/>
<text x="299.4" y="185.6" font-size="6.2" font-weight="bold" text-anchor="middle" fill="#111" stroke="#111" stroke-width="0.2">14q13.2</text>
<rect x="328.0" y="159.0" width="56.6" height="27.2" fill="#bdb98a" opacity="0.9" filter="url(#sh)"/>
<rect x="326.8" y="157.8" width="56.6" height="27.2" fill="#fcf89c"/>
<text x="355.1" y="165.9" font-size="6.2" font-weight="bold" text-anchor="middle" fill="#c23818" stroke="#c23818" stroke-width="0.2">15q21.2</text>
<text x="355.1" y="175.1" font-size="6.2" font-weight="bold" text-anchor="middle" fill="#c23818" stroke="#c23818" stroke-width="0.2" font-style="italic">FGF7,</text>
<text x="355.1" y="182.4" font-size="6.2" font-weight="bold" text-anchor="middle" fill="#c23818" stroke="#c23818" stroke-width="0.2" font-style="italic">SECISBP2L</text>
<rect x="361.4" y="188.0" width="30.2" height="16.0" fill="#bdb98a" opacity="0.9" filter="url(#sh)"/>
<rect x="360.2" y="186.8" width="30.2" height="16.0" fill="#fcf89c"/>
<text x="375.3" y="193.3" font-size="6.2" font-weight="bold" text-anchor="middle" fill="#111" stroke="#111" stroke-width="0.2">17q24.3</text>
<text x="375.3" y="200.3" font-size="6.2" font-weight="bold" text-anchor="middle" fill="#111" stroke="#111" stroke-width="0.2" font-style="italic">BPTF</text>
<rect x="329.0" y="206.8" width="30.1" height="17.0" fill="#bdb98a" opacity="0.9" filter="url(#sh)"/>
<rect x="327.8" y="205.6" width="30.1" height="17.0" fill="#fcf89c"/>
<text x="342.6" y="212.8" font-size="6.2" font-weight="bold" text-anchor="middle" fill="#c23818" stroke="#c23818" stroke-width="0.2">15q21.3</text>
<text x="342.6" y="220.2" font-size="6.2" font-weight="bold" text-anchor="middle" fill="#c23818" stroke="#c23818" stroke-width="0.2" font-style="italic">RFX7</text>
<rect x="386.4" y="206.4" width="30.6" height="16.5" fill="#bdb98a" opacity="0.9" filter="url(#sh)"/>
<rect x="385.2" y="205.2" width="30.6" height="16.5" fill="#fcf89c"/>
<text x="400.5" y="212.1" font-size="6.2" font-weight="bold" text-anchor="middle" fill="#c23818" stroke="#c23818" stroke-width="0.2">19p13.3</text>
<text x="400.5" y="219.6" font-size="6.2" font-weight="bold" text-anchor="middle" fill="#c23818" stroke="#c23818" stroke-width="0.2" font-style="italic">PALM</text>
<text x="331.9" y="28.7" font-size="9.3" font-weight="bold" fill="#d0202a" stroke="#d0202a" stroke-width="0.3">Novel</text>
<text x="331.9" y="40.8" font-size="9.6" font-weight="bold" fill="#111" stroke="#111" stroke-width="0.3">Previously reported</text>
<text x="26.4" y="311.8" font-size="5.4" text-anchor="middle" fill="#333" stroke="#333" stroke-width="0.12">4</text>
<text x="61.7" y="311.8" font-size="5.4" text-anchor="middle" fill="#333" stroke="#333" stroke-width="0.12">5</text>
<text x="95.0" y="311.8" font-size="5.4" text-anchor="middle" fill="#333" stroke="#333" stroke-width="0.12">6</text>
<text x="126.5" y="311.8" font-size="5.4" text-anchor="middle" fill="#333" stroke="#333" stroke-width="0.12">7</text>
<text x="155.5" y="311.8" font-size="5.4" text-anchor="middle" fill="#333" stroke="#333" stroke-width="0.12">8</text>
<text x="182.5" y="311.8" font-size="5.4" text-anchor="middle" fill="#333" stroke="#333" stroke-width="0.12">9</text>
<text x="208.4" y="311.8" font-size="5.4" text-anchor="middle" fill="#333" stroke="#333" stroke-width="0.12">10</text>
<text x="234.3" y="311.8" font-size="5.4" text-anchor="middle" fill="#333" stroke="#333" stroke-width="0.12">11</text>
<text x="261.6" y="311.8" font-size="5.4" text-anchor="middle" fill="#333" stroke="#333" stroke-width="0.12">12</text>
<text x="286.4" y="311.8" font-size="5.4" text-anchor="middle" fill="#333" stroke="#333" stroke-width="0.12">13</text>
<text x="307.9" y="311.8" font-size="5.4" text-anchor="middle" fill="#333" stroke="#333" stroke-width="0.12">14</text>
<text x="326.7" y="311.8" font-size="5.4" text-anchor="middle" fill="#333" stroke="#333" stroke-width="0.12">15</text>
<text x="342.8" y="311.8" font-size="5.4" text-anchor="middle" fill="#333" stroke="#333" stroke-width="0.12">16</text>
<text x="358.8" y="311.8" font-size="5.4" text-anchor="middle" fill="#333" stroke="#333" stroke-width="0.12">17</text>
<text x="374.1" y="311.8" font-size="5.4" text-anchor="middle" fill="#333" stroke="#333" stroke-width="0.12">18</text>
<text x="387.1" y="311.8" font-size="5.4" text-anchor="middle" fill="#333" stroke="#333" stroke-width="0.12">19</text>
<text x="399.8" y="311.8" font-size="5.4" text-anchor="middle" fill="#333" stroke="#333" stroke-width="0.12">20</text>
<text x="411.6" y="311.8" font-size="5.4" text-anchor="middle" fill="#333" stroke="#333" stroke-width="0.12">21</text>
<text x="420.2" y="311.8" font-size="5.4" text-anchor="middle" fill="#333" stroke="#333" stroke-width="0.12">22</text>
<text x="151.2" y="318.9" font-size="5.5" text-anchor="middle" fill="#444">Chromosome</text>
</svg></body></html>
